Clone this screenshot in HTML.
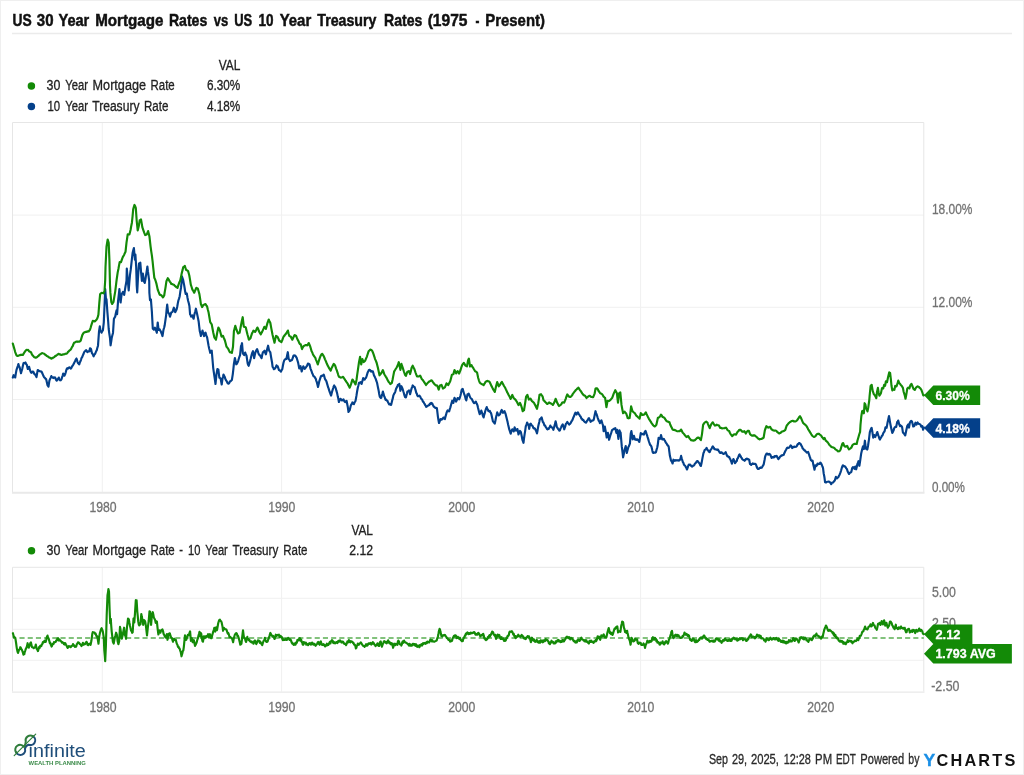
<!DOCTYPE html>
<html lang="en"><head><meta charset="utf-8"><title>US 30 Year Mortgage Rates vs US 10 Year Treasury Rates</title>
<style>html,body{margin:0;padding:0;background:#fff;overflow:hidden}svg{display:block;will-change:transform}text{font-family:"Liberation Sans",sans-serif}</style></head><body>
<svg width="1024" height="775" viewBox="0 0 1024 775">
<rect x="0" y="0" width="1024" height="775" fill="#fff"/>
<g opacity="0.999">
<rect x="0.5" y="0.5" width="1023" height="774" fill="none" stroke="#efefef" stroke-width="1"/>
<text y="25.8" font-size="17.0" fill="#111" font-weight="bold" stroke="#111" stroke-width="0.5"><tspan x="12.6" textLength="19.2" lengthAdjust="spacingAndGlyphs">US</tspan> <tspan x="36.8" textLength="16.7" lengthAdjust="spacingAndGlyphs">30</tspan> <tspan x="58.5" textLength="30.8" lengthAdjust="spacingAndGlyphs">Year</tspan> <tspan x="95.2" textLength="68.3" lengthAdjust="spacingAndGlyphs">Mortgage</tspan> <tspan x="168.9" textLength="38.4" lengthAdjust="spacingAndGlyphs">Rates</tspan> <tspan x="213.8" textLength="14.5" lengthAdjust="spacingAndGlyphs">vs</tspan> <tspan x="234.2" textLength="18.0" lengthAdjust="spacingAndGlyphs">US</tspan> <tspan x="258.6" textLength="15.0" lengthAdjust="spacingAndGlyphs">10</tspan> <tspan x="279.7" textLength="31.5" lengthAdjust="spacingAndGlyphs">Year</tspan> <tspan x="317.3" textLength="59.1" lengthAdjust="spacingAndGlyphs">Treasury</tspan> <tspan x="384.0" textLength="38.3" lengthAdjust="spacingAndGlyphs">Rates</tspan> <tspan x="427.7" textLength="39.8" lengthAdjust="spacingAndGlyphs">(1975</tspan> <tspan x="475.5" textLength="3.9" lengthAdjust="spacingAndGlyphs">-</tspan> <tspan x="485.3" textLength="59.6" lengthAdjust="spacingAndGlyphs">Present)</tspan></text>
<line x1="12" y1="33.5" x2="1012" y2="33.5" stroke="#ebebeb" stroke-width="1.4"/>
<text x="218.7" y="69.9" font-size="14.0" fill="#222222" textLength="21.6" lengthAdjust="spacingAndGlyphs" stroke="#222222" stroke-width="0.3">VAL</text>
<circle cx="31.4" cy="86.0" r="3.75" fill="#138a07"/>
<text y="90.3" font-size="14.0" fill="#222222" stroke="#222222" stroke-width="0.3"><tspan x="46.6" textLength="13.8" lengthAdjust="spacingAndGlyphs">30</tspan> <tspan x="65.3" textLength="22.8" lengthAdjust="spacingAndGlyphs">Year</tspan> <tspan x="92.6" textLength="53.4" lengthAdjust="spacingAndGlyphs">Mortgage</tspan> <tspan x="150.5" textLength="24.2" lengthAdjust="spacingAndGlyphs">Rate</tspan></text>
<text x="207" y="90.3" font-size="14.0" fill="#222222" textLength="33.3" lengthAdjust="spacingAndGlyphs" stroke="#222222" stroke-width="0.3">6.30%</text>
<circle cx="31.4" cy="106.5" r="3.75" fill="#04408a"/>
<text y="110.8" font-size="14.0" fill="#222222" stroke="#222222" stroke-width="0.3"><tspan x="47.5" textLength="12.7" lengthAdjust="spacingAndGlyphs">10</tspan> <tspan x="65.3" textLength="22.8" lengthAdjust="spacingAndGlyphs">Year</tspan> <tspan x="92.2" textLength="47.3" lengthAdjust="spacingAndGlyphs">Treasury</tspan> <tspan x="143.9" textLength="24.5" lengthAdjust="spacingAndGlyphs">Rate</tspan></text>
<text x="207" y="110.8" font-size="14.0" fill="#222222" textLength="33.3" lengthAdjust="spacingAndGlyphs" stroke="#222222" stroke-width="0.3">4.18%</text>
<line x1="102.3" y1="122.5" x2="102.3" y2="492.3" stroke="#f0f0f0" stroke-width="1"/>
<line x1="281.6" y1="122.5" x2="281.6" y2="492.3" stroke="#f0f0f0" stroke-width="1"/>
<line x1="461.6" y1="122.5" x2="461.6" y2="492.3" stroke="#f0f0f0" stroke-width="1"/>
<line x1="640.6" y1="122.5" x2="640.6" y2="492.3" stroke="#f0f0f0" stroke-width="1"/>
<line x1="820.6" y1="122.5" x2="820.6" y2="492.3" stroke="#f0f0f0" stroke-width="1"/>
<line x1="12.5" y1="215.1" x2="923.8" y2="215.1" stroke="#f0f0f0" stroke-width="1"/>
<line x1="12.5" y1="307.3" x2="923.8" y2="307.3" stroke="#f0f0f0" stroke-width="1"/>
<line x1="12.5" y1="399.5" x2="923.8" y2="399.5" stroke="#f0f0f0" stroke-width="1"/>
<path d="M12.5,492.3 L12.5,122.5 L923.8,122.5 L923.8,492.3" fill="none" stroke="#e6e6e6" stroke-width="1"/>
<line x1="12.0" y1="492.8" x2="924.5" y2="492.8" stroke="#e9e9e9" stroke-width="2"/>
<path d="M12.8,377.6 L13.6,375.2 L14.1,375.8 L14.7,376.8 L15.2,377.5 L15.8,373.6 L16.5,369.9 L17.1,368.2 L17.8,366.1 L18.4,364.0 L19.0,366.2 L19.7,367.4 L20.4,370.4 L21.0,373.2 L21.6,371.0 L22.3,368.6 L22.9,365.8 L23.5,363.2 L24.0,362.9 L24.5,363.1 L25.0,363.1 L25.5,362.5 L26.1,364.1 L26.8,364.8 L27.3,367.0 L27.8,369.0 L28.5,368.4 L29.1,366.8 L30.0,370.2 L30.6,371.6 L31.3,372.8 L31.9,372.5 L32.4,371.6 L33.0,371.6 L33.5,372.1 L34.0,373.4 L34.5,374.2 L35.0,374.3 L35.5,375.2 L36.0,376.0 L36.5,377.2 L37.1,373.5 L37.7,370.1 L38.2,370.1 L38.7,370.7 L39.2,370.9 L39.7,371.2 L40.3,371.4 L41.0,371.4 L41.6,371.7 L42.2,373.0 L42.9,374.7 L43.5,376.1 L44.0,377.1 L44.6,377.7 L45.1,378.1 L45.6,379.0 L46.1,379.1 L46.8,382.0 L47.4,384.9 L48.0,386.0 L48.5,386.7 L49.4,380.6 L50.0,379.1 L50.7,377.6 L51.3,376.1 L51.9,377.2 L52.6,377.7 L53.2,377.3 L53.7,378.0 L54.2,377.6 L54.7,377.4 L55.2,377.5 L55.7,379.0 L56.2,380.2 L56.7,380.6 L57.2,380.3 L57.8,378.9 L58.3,378.7 L58.8,377.5 L59.3,378.9 L59.8,379.9 L60.3,380.3 L61.0,380.1 L61.6,378.9 L62.1,377.2 L62.7,375.6 L63.2,373.5 L63.9,374.6 L64.5,375.7 L65.1,374.3 L65.7,372.5 L66.2,370.4 L66.8,368.8 L67.3,368.2 L67.8,368.6 L68.3,368.5 L68.9,367.6 L69.6,367.4 L70.2,368.0 L70.9,368.6 L71.5,367.6 L72.0,366.6 L72.6,365.6 L73.2,364.8 L73.9,363.4 L74.5,362.2 L75.0,361.5 L75.5,360.1 L76.0,359.2 L76.5,358.5 L77.0,360.1 L77.5,361.8 L78.0,363.1 L78.7,363.8 L79.3,364.3 L79.9,362.3 L80.4,361.3 L81.0,359.8 L81.6,357.8 L82.3,356.8 L82.9,355.2 L83.5,354.1 L84.0,352.5 L84.6,351.5 L85.1,351.3 L85.6,350.4 L86.1,350.2 L86.8,351.3 L87.4,352.1 L87.9,351.4 L88.4,351.5 L88.9,351.5 L89.4,351.3 L90.0,348.3 L90.5,348.5 L91.0,349.0 L91.9,353.0 L92.5,353.8 L93.0,354.9 L93.6,356.3 L94.1,354.8 L94.7,354.4 L95.2,353.7 L95.7,352.3 L96.2,351.1 L96.7,350.4 L97.3,348.0 L98.0,345.7 L98.5,338.7 L99.0,331.7 L99.8,326.4 L100.6,331.4 L101.1,331.8 L101.6,332.6 L102.2,331.2 L102.9,330.4 L103.8,322.5 L104.5,305.8 L105.2,289.0 L105.9,298.4 L106.5,299.4 L107.4,312.2 L108.1,320.5 L108.7,329.0 L109.3,333.5 L110.0,338.2 L110.6,345.3 L111.2,341.6 L111.7,338.0 L112.3,335.6 L113.0,332.9 L113.9,319.0 L114.6,317.6 L115.2,316.7 L115.8,313.5 L116.5,310.4 L117.1,314.1 L117.6,307.4 L118.1,300.6 L118.8,294.8 L119.4,289.0 L120.0,295.9 L120.6,302.5 L121.1,298.3 L121.6,294.6 L122.2,293.2 L122.9,292.0 L123.6,293.1 L124.2,294.9 L124.8,290.8 L125.5,286.4 L126.0,283.6 L126.5,280.7 L126.8,268.5 L127.3,274.4 L127.8,280.1 L128.7,290.5 L129.3,282.7 L130.0,274.9 L130.7,269.9 L131.3,264.6 L131.9,259.0 L132.6,253.0 L133.2,250.6 L133.9,248.0 L134.4,253.8 L134.9,259.6 L135.4,254.5 L136.2,267.3 L136.7,285.2 L137.2,292.5 L138.0,277.5 L138.5,270.4 L139.0,263.5 L139.7,263.1 L140.3,262.7 L141.1,272.5 L141.9,280.8 L142.4,277.2 L142.9,273.6 L143.4,277.7 L143.9,281.5 L144.8,282.8 L145.4,279.5 L145.9,276.2 L146.4,273.1 L146.9,269.9 L147.4,266.5 L147.9,271.2 L148.5,275.7 L149.2,280.9 L149.4,293.0 L150.0,300.2 L150.9,299.4 L151.4,305.9 L151.9,312.2 L152.8,328.8 L153.4,329.1 L153.9,329.7 L154.4,328.6 L154.9,327.7 L155.8,329.8 L156.3,331.2 L156.8,332.8 L157.7,322.5 L158.6,330.0 L159.1,329.3 L159.7,329.4 L160.2,330.6 L160.7,331.2 L161.6,333.5 L162.5,336.1 L163.0,332.8 L163.5,329.7 L164.1,327.8 L164.6,325.8 L165.1,322.3 L165.6,318.8 L166.1,315.5 L166.6,309.9 L167.2,304.5 L168.1,312.5 L169.0,313.5 L169.5,315.0 L170.0,316.7 L170.7,314.5 L171.3,312.4 L171.9,312.2 L172.6,311.6 L173.2,309.7 L173.9,307.7 L174.6,310.0 L175.2,312.2 L175.7,311.2 L176.2,310.3 L176.7,309.0 L177.3,306.3 L177.8,303.4 L178.4,300.5 L179.1,298.4 L179.7,296.2 L180.3,291.8 L181.0,287.7 L181.7,281.3 L181.9,276.4 L182.6,278.4 L183.2,280.2 L183.7,282.9 L184.2,285.4 L184.7,288.5 L185.2,291.8 L185.7,293.9 L186.2,294.1 L186.8,293.5 L187.4,297.2 L188.1,300.7 L188.8,303.2 L189.4,305.9 L190.1,314.3 L190.6,315.0 L191.1,316.6 L191.8,315.7 L192.4,315.4 L193.0,317.5 L193.6,318.7 L194.1,316.0 L194.7,313.3 L195.3,311.2 L195.9,308.7 L196.4,311.0 L197.0,313.5 L197.5,315.9 L198.1,318.7 L198.6,321.2 L199.2,326.3 L199.8,331.3 L200.4,333.6 L200.9,336.0 L201.4,334.0 L202.0,332.4 L202.5,330.5 L203.0,332.4 L203.5,334.0 L204.0,336.1 L204.5,335.3 L205.0,333.4 L205.5,332.6 L206.0,334.4 L206.6,336.2 L207.1,337.3 L207.6,340.1 L208.1,343.0 L208.6,345.9 L209.1,348.3 L209.7,350.5 L210.2,352.8 L210.7,352.0 L211.2,351.2 L211.7,350.6 L212.2,356.2 L212.7,362.0 L213.2,367.8 L213.8,372.2 L214.5,376.9 L215.0,380.3 L215.5,384.0 L216.0,379.1 L216.5,374.2 L217.4,369.0 L217.9,369.3 L218.4,369.7 L218.9,374.0 L219.4,377.8 L220.1,378.0 L220.7,378.8 L221.2,381.7 L221.7,384.5 L222.5,378.7 L223.0,376.8 L223.5,374.5 L224.2,375.9 L224.8,377.1 L225.4,379.1 L226.1,380.4 L226.8,381.4 L227.4,382.8 L228.1,383.7 L228.7,383.7 L229.3,382.8 L230.0,381.2 L230.6,381.2 L231.3,380.5 L231.9,379.9 L232.8,374.1 L233.4,368.9 L233.9,363.9 L234.4,361.0 L234.9,358.0 L235.6,361.3 L236.2,364.3 L236.8,363.8 L237.5,362.5 L238.2,360.8 L238.8,358.7 L239.4,356.8 L240.1,354.8 L241.0,346.1 L241.5,344.8 L242.0,343.2 L242.9,353.5 L243.6,354.3 L244.2,355.1 L244.7,353.5 L245.2,352.5 L245.8,354.3 L246.5,355.5 L247.1,359.6 L247.7,363.7 L248.2,365.0 L248.7,365.8 L249.3,363.7 L250.0,361.4 L250.6,359.1 L251.1,356.9 L251.7,354.6 L252.3,352.6 L253.0,351.1 L253.6,354.6 L254.1,358.2 L254.8,355.1 L255.4,352.6 L256.0,351.0 L256.5,350.0 L257.1,349.1 L257.8,351.1 L258.4,353.1 L259.0,354.7 L259.7,355.0 L260.3,356.0 L261.0,357.2 L261.6,358.1 L262.2,355.1 L262.9,352.2 L263.5,351.8 L264.0,351.4 L264.6,350.7 L265.2,352.7 L265.9,354.3 L266.5,351.6 L267.2,349.0 L268.1,345.7 L269.0,350.1 L269.6,351.4 L270.3,352.2 L270.9,356.0 L271.5,359.5 L272.1,362.8 L272.6,366.9 L273.2,367.6 L273.9,369.2 L274.5,368.9 L275.2,368.2 L275.9,367.0 L276.5,365.3 L277.1,366.1 L277.7,366.3 L278.4,368.3 L279.0,370.1 L279.5,370.3 L280.0,370.7 L280.5,370.8 L281.0,371.6 L281.6,370.2 L282.3,369.1 L282.9,365.8 L283.5,362.7 L284.1,360.7 L284.8,359.5 L285.4,359.3 L285.9,358.6 L286.5,358.8 L287.1,355.5 L287.8,352.2 L288.7,359.1 L289.4,359.7 L290.0,361.1 L290.4,360.9 L290.9,360.5 L291.5,360.2 L292.0,360.0 L292.5,358.6 L293.0,357.1 L293.5,355.7 L294.0,355.4 L294.6,355.7 L295.1,355.5 L295.6,356.1 L296.1,357.0 L296.6,357.6 L297.1,359.3 L297.7,361.2 L298.2,363.1 L298.7,365.6 L299.2,368.4 L299.9,367.0 L300.5,366.2 L301.1,368.8 L301.7,371.5 L302.2,369.7 L302.8,367.9 L303.3,366.3 L303.8,367.0 L304.3,368.5 L304.8,368.9 L305.3,368.2 L305.9,367.3 L306.4,366.6 L306.9,366.1 L307.4,365.0 L307.9,363.5 L308.4,363.7 L309.0,364.0 L309.5,364.3 L310.0,366.4 L310.5,368.6 L311.0,370.0 L311.6,371.2 L312.1,373.0 L312.6,373.9 L313.1,375.2 L313.6,376.3 L314.1,376.4 L314.7,377.0 L315.2,378.0 L315.7,378.6 L316.2,380.6 L316.7,381.7 L317.4,384.4 L318.0,387.0 L318.7,383.9 L319.4,380.8 L319.9,379.3 L320.4,377.9 L320.9,376.4 L321.4,375.8 L322.0,376.0 L322.5,375.4 L323.1,375.1 L323.7,374.7 L324.3,376.4 L324.9,378.7 L325.4,379.7 L326.0,380.6 L326.5,381.6 L327.0,383.4 L327.5,385.1 L328.0,387.0 L328.5,388.1 L329.1,390.1 L329.6,391.7 L330.1,392.8 L330.6,394.3 L331.1,395.6 L331.6,393.5 L332.2,391.3 L332.7,389.6 L333.2,388.1 L333.7,386.4 L334.2,385.4 L334.7,386.3 L335.3,387.1 L335.8,388.5 L336.3,390.4 L336.8,392.1 L337.3,394.1 L337.8,396.6 L338.4,399.0 L338.9,402.0 L339.4,400.8 L339.9,400.0 L340.4,398.8 L340.9,399.3 L341.5,399.5 L342.0,400.5 L342.5,400.3 L343.0,400.0 L343.5,399.3 L344.0,400.7 L344.6,401.5 L345.1,402.1 L345.6,401.6 L346.1,401.1 L346.6,400.8 L347.1,403.6 L347.7,406.4 L348.5,412.0 L349.1,411.0 L349.7,410.2 L350.2,407.9 L350.8,405.4 L351.3,404.5 L351.9,403.8 L352.4,402.4 L352.9,402.7 L353.4,403.9 L353.9,404.2 L354.4,402.8 L355.0,401.8 L355.5,400.9 L356.0,398.2 L356.5,395.4 L357.1,391.5 L357.8,387.7 L358.4,385.5 L359.0,382.8 L359.5,382.8 L360.1,382.4 L360.6,382.1 L361.1,382.9 L361.6,383.9 L362.1,382.0 L362.7,380.2 L363.2,378.1 L363.7,378.7 L364.2,379.5 L364.7,379.6 L365.2,378.5 L365.8,377.9 L366.3,376.9 L366.8,375.4 L367.3,373.7 L367.8,372.2 L368.3,371.3 L368.9,370.0 L369.4,369.9 L369.9,369.9 L370.4,370.5 L370.9,371.5 L371.4,371.2 L371.9,371.6 L372.4,371.4 L372.9,371.4 L373.4,373.3 L374.0,375.6 L374.5,376.2 L375.1,377.7 L375.6,378.5 L376.1,380.2 L376.6,381.5 L377.1,383.0 L377.6,385.6 L378.2,388.4 L378.7,390.9 L379.2,394.0 L379.8,396.7 L380.3,397.5 L380.8,398.0 L381.3,397.8 L381.8,395.6 L382.4,393.5 L382.9,391.5 L383.5,393.9 L384.1,395.9 L384.6,396.9 L385.1,398.5 L385.6,399.8 L386.2,399.6 L386.9,400.8 L387.5,400.9 L388.0,402.2 L388.6,403.3 L389.1,404.4 L389.6,403.8 L390.1,404.2 L390.6,404.7 L391.1,404.9 L391.7,402.4 L392.3,400.1 L392.9,397.9 L393.4,395.2 L393.9,394.4 L394.4,393.3 L394.9,392.6 L395.4,391.3 L396.0,389.0 L396.5,388.0 L397.0,387.0 L397.5,386.0 L398.0,384.7 L398.6,384.7 L399.3,383.9 L399.9,387.4 L400.4,390.8 L400.9,388.6 L401.4,386.2 L402.0,387.5 L402.7,389.2 L403.3,391.3 L403.9,393.2 L404.4,395.2 L405.0,397.0 L405.9,397.4 L406.4,395.5 L406.9,393.8 L407.4,391.5 L407.9,391.4 L408.5,391.1 L409.0,390.4 L409.6,392.2 L410.1,394.2 L410.6,392.3 L411.1,390.2 L411.6,388.4 L412.1,387.1 L412.7,385.4 L413.2,386.2 L413.7,386.6 L414.2,386.7 L414.7,387.3 L415.2,389.0 L415.8,390.9 L416.3,393.1 L416.8,393.6 L417.3,395.4 L417.8,396.2 L418.3,396.0 L418.9,396.2 L419.4,395.6 L419.9,396.2 L420.4,397.0 L420.9,398.2 L421.4,399.0 L421.9,399.2 L422.4,400.2 L422.9,401.6 L423.5,402.0 L424.2,403.3 L424.8,404.2 L425.3,405.3 L425.8,405.9 L426.3,406.9 L426.9,406.4 L427.6,405.9 L428.2,405.6 L428.7,405.0 L429.2,405.1 L429.7,404.0 L430.2,403.5 L430.7,404.0 L431.2,402.9 L431.7,403.2 L432.2,403.5 L432.8,404.8 L433.3,405.7 L433.8,406.7 L434.3,407.0 L434.8,407.5 L435.3,407.8 L435.9,408.1 L436.4,407.9 L436.9,408.2 L437.4,412.4 L437.9,416.6 L438.4,419.9 L439.0,423.0 L439.5,421.9 L440.1,420.0 L440.6,419.0 L441.1,419.2 L441.6,419.7 L442.1,419.4 L442.8,418.5 L443.4,417.5 L443.9,417.6 L444.4,418.5 L444.9,419.1 L445.4,416.9 L446.0,414.9 L446.5,412.9 L447.1,411.4 L447.7,410.4 L448.2,411.2 L448.7,410.9 L449.2,411.3 L449.7,409.4 L450.3,407.6 L450.8,405.8 L451.5,403.3 L452.2,400.7 L452.8,402.0 L453.4,402.9 L453.9,400.1 L454.5,397.8 L455.0,398.7 L455.6,399.9 L456.1,401.6 L456.6,400.5 L457.1,399.5 L457.6,398.1 L458.1,398.6 L458.6,398.5 L459.1,399.3 L459.8,397.7 L460.4,395.7 L461.0,393.2 L461.6,390.1 L462.1,389.2 L462.7,388.9 L463.2,390.7 L463.8,392.7 L464.4,394.7 L465.0,396.2 L465.6,398.8 L466.3,400.4 L466.9,397.4 L467.5,394.2 L468.1,394.1 L468.7,393.7 L469.4,395.3 L470.0,397.0 L470.5,397.8 L471.0,398.5 L471.5,398.7 L472.0,399.4 L472.5,400.7 L473.0,401.4 L473.5,402.5 L474.0,403.2 L474.6,402.9 L475.3,402.2 L475.9,401.7 L476.4,402.9 L476.9,404.0 L477.4,405.1 L478.0,407.8 L478.7,410.5 L479.2,412.5 L479.7,414.2 L480.2,413.1 L480.8,412.1 L481.3,410.6 L481.8,412.0 L482.3,413.6 L482.8,415.5 L483.6,417.4 L484.1,415.3 L484.7,413.4 L485.2,411.3 L485.7,409.7 L486.2,408.3 L486.7,407.1 L487.2,408.7 L487.8,409.4 L488.3,410.9 L488.8,411.0 L489.3,411.5 L489.8,410.9 L490.3,412.0 L490.9,412.9 L491.4,414.4 L491.9,416.7 L492.4,418.9 L492.9,421.4 L493.5,421.8 L494.2,422.8 L494.8,423.6 L495.4,420.7 L496.0,417.5 L496.6,415.1 L497.2,412.4 L497.7,413.5 L498.3,414.5 L498.8,415.4 L499.3,415.0 L499.8,414.4 L500.3,413.4 L501.0,411.3 L501.7,409.9 L502.4,411.5 L503.0,412.8 L503.5,412.6 L504.0,411.8 L504.5,411.1 L505.0,412.5 L505.6,413.9 L506.1,415.9 L506.6,418.1 L507.1,420.1 L507.6,422.1 L508.1,424.5 L508.7,426.9 L509.2,429.2 L509.7,430.7 L510.2,432.1 L510.7,433.7 L511.2,431.9 L511.8,430.3 L512.3,429.3 L512.8,430.3 L513.3,430.7 L513.8,431.4 L514.6,427.4 L515.1,428.5 L515.6,429.8 L516.1,430.6 L516.8,430.3 L517.4,429.0 L518.0,431.8 L518.5,434.5 L519.0,433.1 L519.5,432.2 L520.0,430.9 L520.9,432.1 L521.4,434.6 L521.9,437.0 L522.4,439.8 L523.0,441.3 L523.5,442.8 L524.0,438.5 L524.6,434.4 L525.2,430.6 L525.8,426.2 L526.5,424.8 L527.1,422.6 L527.6,423.5 L528.1,424.6 L528.6,425.1 L529.2,428.9 L529.7,426.1 L530.2,423.9 L530.7,423.7 L531.2,424.4 L531.7,425.3 L532.2,425.6 L532.8,426.4 L533.3,427.8 L533.9,428.3 L534.5,428.2 L535.1,428.8 L535.7,430.2 L536.4,431.6 L537.0,433.4 L537.6,430.2 L538.2,426.5 L538.7,424.2 L539.3,421.9 L539.8,419.2 L540.4,418.9 L541.0,418.3 L541.6,417.4 L542.2,419.6 L542.9,422.2 L543.4,422.5 L543.9,423.8 L544.4,425.4 L544.9,425.4 L545.5,426.4 L546.0,427.4 L546.5,428.0 L547.0,429.0 L547.5,429.3 L548.0,428.9 L548.6,429.0 L549.1,427.8 L549.7,427.3 L550.3,425.5 L550.8,426.8 L551.4,427.0 L551.9,427.5 L552.4,427.8 L552.9,428.5 L553.4,429.8 L553.9,427.8 L554.4,426.0 L554.9,424.4 L555.6,421.3 L556.2,423.8 L556.8,427.0 L557.3,427.7 L557.9,428.6 L558.4,429.3 L558.9,429.9 L559.4,430.7 L559.9,430.3 L560.4,428.9 L561.0,427.6 L561.5,426.3 L562.1,425.3 L562.7,424.4 L563.2,425.7 L563.7,427.3 L564.2,429.3 L564.7,427.8 L565.3,426.3 L565.8,424.1 L566.3,423.4 L566.8,423.1 L567.3,421.9 L567.9,423.1 L568.6,423.8 L569.2,424.6 L569.7,424.1 L570.2,423.7 L570.7,423.0 L571.3,421.7 L572.0,420.6 L572.6,419.6 L573.1,418.2 L573.6,417.0 L574.1,416.0 L574.8,413.9 L575.4,412.7 L576.0,413.8 L576.6,414.5 L577.2,412.8 L577.9,412.3 L578.6,413.8 L579.3,414.7 L579.8,415.6 L580.3,416.3 L580.8,416.9 L581.3,418.5 L581.9,418.8 L582.4,419.9 L582.9,419.7 L583.4,420.0 L583.9,421.1 L584.4,421.5 L584.9,422.1 L585.4,422.4 L585.9,422.7 L586.4,422.2 L587.0,420.8 L587.5,420.4 L588.0,419.6 L588.5,418.5 L589.0,418.2 L589.5,419.2 L590.1,420.6 L590.6,421.8 L591.1,421.2 L591.6,420.8 L592.1,420.5 L592.6,420.6 L593.2,420.3 L593.7,419.7 L594.2,417.4 L594.7,414.9 L595.5,411.2 L596.1,413.0 L596.8,414.9 L597.3,416.5 L597.8,418.1 L598.3,419.5 L598.8,420.8 L599.4,421.5 L599.9,423.1 L600.4,421.9 L600.9,421.1 L601.4,420.4 L601.9,422.0 L602.4,423.6 L602.9,425.0 L603.6,431.2 L604.2,428.9 L604.8,426.5 L605.4,429.7 L606.0,432.9 L606.7,437.5 L607.3,435.0 L607.9,432.9 L608.5,436.2 L609.1,439.8 L609.6,437.9 L610.2,436.0 L610.7,434.3 L611.2,432.9 L611.7,431.2 L612.2,430.0 L612.8,429.6 L613.5,429.0 L614.1,428.7 L614.7,428.5 L615.3,428.1 L615.8,430.4 L616.4,432.8 L617.2,429.8 L617.8,434.4 L618.4,438.9 L619.0,434.7 L619.5,430.4 L620.0,431.8 L620.6,432.7 L621.2,439.6 L621.8,446.7 L622.5,452.0 L623.1,457.4 L623.7,454.5 L624.2,451.5 L624.7,449.6 L625.2,447.8 L625.7,446.0 L626.2,449.5 L626.8,453.0 L627.3,451.1 L627.8,449.3 L628.3,447.2 L628.8,446.5 L629.4,444.8 L629.9,443.6 L630.8,433.2 L631.4,431.1 L632.0,435.0 L632.7,439.3 L633.3,437.5 L633.9,435.8 L634.5,437.7 L635.0,439.6 L635.6,439.2 L636.2,439.9 L636.7,439.3 L637.2,439.4 L637.7,439.5 L638.2,440.4 L638.8,441.1 L639.3,441.9 L639.8,439.1 L640.3,436.2 L640.8,433.0 L641.3,434.1 L641.9,434.1 L642.4,433.8 L642.9,434.1 L643.4,434.4 L643.9,434.6 L644.4,432.7 L645.0,431.5 L645.5,430.8 L646.0,432.1 L646.5,434.0 L647.0,435.1 L647.5,436.8 L648.1,438.6 L648.6,440.4 L649.1,442.0 L649.6,443.4 L650.1,444.9 L650.8,445.4 L651.4,446.6 L651.9,448.5 L652.4,450.9 L652.9,452.8 L653.4,452.9 L654.0,452.4 L654.5,452.6 L655.0,452.5 L655.5,452.6 L656.0,452.0 L656.5,449.9 L657.1,448.0 L657.6,445.8 L658.1,442.0 L658.6,437.8 L659.1,438.2 L659.7,438.9 L660.2,438.7 L661.0,435.0 L661.6,437.3 L662.2,439.5 L662.7,439.5 L663.3,439.2 L663.8,438.8 L664.3,439.8 L664.8,440.5 L665.3,441.5 L665.8,442.6 L666.4,443.3 L666.9,444.0 L667.5,445.4 L668.1,445.6 L668.7,446.7 L669.3,451.4 L669.9,455.8 L670.5,458.3 L671.0,460.4 L671.5,461.3 L672.1,462.3 L672.6,463.5 L673.4,459.7 L673.9,459.9 L674.4,460.5 L674.9,460.8 L675.4,460.1 L676.0,460.4 L676.5,460.4 L677.1,460.2 L677.6,460.3 L678.2,460.3 L678.8,460.7 L679.3,460.1 L679.8,459.6 L680.3,459.6 L681.1,455.9 L681.7,458.2 L682.3,460.3 L682.8,462.0 L683.4,462.8 L683.9,464.6 L684.5,465.3 L685.1,465.6 L685.7,466.9 L686.4,468.0 L687.0,469.5 L687.5,468.2 L688.0,466.7 L688.5,465.1 L689.0,464.5 L689.6,464.9 L690.1,464.7 L690.6,465.1 L691.1,465.8 L691.6,466.2 L692.1,466.6 L692.7,466.2 L693.2,465.6 L693.8,465.4 L694.4,464.8 L695.0,463.5 L695.6,463.3 L696.2,462.2 L696.8,461.2 L697.4,461.0 L697.9,461.3 L698.4,462.3 L698.9,462.9 L699.4,463.2 L699.9,464.4 L700.4,465.4 L700.9,465.9 L701.5,463.2 L702.0,460.6 L702.5,457.9 L703.0,455.4 L703.5,452.9 L704.0,451.9 L704.6,450.2 L705.1,449.5 L705.6,449.5 L706.1,448.7 L706.6,447.9 L707.1,449.3 L707.7,450.0 L708.2,450.5 L708.7,451.4 L709.2,451.8 L709.7,452.2 L710.2,450.8 L710.8,449.5 L711.3,449.1 L711.8,448.2 L712.3,447.0 L712.8,446.3 L713.3,447.2 L713.9,447.8 L714.4,449.1 L714.9,449.2 L715.4,449.3 L715.9,449.3 L716.4,449.7 L716.9,449.5 L717.4,449.9 L717.9,449.4 L718.5,450.6 L719.2,451.5 L719.8,452.7 L720.4,452.9 L721.1,452.4 L721.7,452.4 L722.2,453.2 L722.7,453.3 L723.2,453.9 L723.7,454.0 L724.2,453.4 L724.7,453.2 L725.2,453.0 L725.7,452.1 L726.2,453.5 L726.7,455.0 L727.2,456.2 L727.7,456.4 L728.3,456.4 L728.8,457.0 L729.3,457.1 L729.8,458.6 L730.3,459.0 L730.8,460.5 L731.4,461.9 L731.9,463.7 L732.4,462.0 L732.9,460.6 L733.4,459.0 L733.9,460.0 L734.5,461.3 L735.0,463.2 L735.6,462.3 L736.2,461.5 L736.8,460.9 L737.3,458.8 L737.9,458.1 L738.4,456.8 L739.0,455.2 L739.6,454.3 L740.1,455.8 L740.7,456.2 L741.2,457.6 L741.7,457.9 L742.2,459.1 L742.7,459.5 L743.3,460.0 L744.0,460.1 L744.6,460.8 L745.1,460.1 L745.6,459.3 L746.1,458.9 L746.6,458.7 L747.2,459.2 L747.7,458.8 L748.2,459.3 L748.7,459.5 L749.2,459.7 L750.0,464.0 L750.6,464.3 L751.2,464.9 L751.7,464.0 L752.2,464.0 L752.7,463.3 L753.3,463.8 L754.0,463.8 L754.6,463.8 L755.1,463.9 L755.6,464.0 L756.1,464.9 L756.6,466.5 L757.2,468.0 L757.7,468.8 L758.2,468.5 L758.7,468.9 L759.2,468.4 L759.7,467.9 L760.2,468.0 L760.7,467.4 L761.2,467.7 L761.7,467.8 L762.3,466.8 L763.0,465.4 L763.6,464.7 L764.1,462.3 L764.6,459.8 L765.1,456.8 L765.6,455.4 L766.2,454.1 L766.7,453.5 L767.2,453.5 L767.7,453.9 L768.2,454.7 L768.7,454.3 L769.3,453.9 L769.8,454.2 L770.4,454.8 L771.0,456.3 L771.6,458.0 L772.1,457.3 L772.6,457.0 L773.1,457.3 L773.6,456.9 L774.1,457.3 L774.7,456.2 L775.2,456.6 L775.7,456.0 L776.2,456.2 L776.7,455.8 L777.2,457.2 L777.8,458.0 L778.3,459.2 L778.8,458.6 L779.3,458.1 L779.8,457.0 L780.3,456.5 L780.8,456.2 L781.4,455.5 L781.9,455.3 L782.5,455.3 L783.1,455.0 L783.7,454.8 L784.3,453.2 L785.0,451.7 L785.6,450.5 L786.1,449.7 L786.6,448.6 L787.1,447.9 L787.6,447.5 L788.1,447.9 L788.6,447.7 L789.1,447.6 L789.6,447.0 L790.2,446.2 L790.7,445.4 L791.2,446.1 L791.7,446.6 L792.2,448.1 L792.7,447.5 L793.2,446.8 L793.7,447.2 L794.2,446.6 L794.8,446.8 L795.5,446.8 L796.1,446.7 L796.7,446.4 L797.4,444.6 L798.0,443.8 L798.5,444.1 L799.0,443.0 L799.5,443.1 L800.0,443.6 L800.6,443.9 L801.1,445.1 L801.6,445.9 L802.1,446.8 L802.6,448.5 L803.1,448.5 L803.6,449.5 L804.1,450.0 L804.6,450.5 L805.0,450.4 L805.6,451.6 L806.2,451.8 L806.8,452.6 L807.5,452.2 L808.1,451.9 L809.0,454.3 L809.5,456.2 L810.1,457.6 L810.7,459.8 L811.3,460.3 L812.0,461.1 L812.6,460.6 L813.4,465.1 L814.0,467.5 L814.5,469.7 L815.4,465.4 L816.3,466.1 L817.0,465.1 L817.6,463.5 L818.3,464.1 L819.0,463.9 L819.6,463.9 L820.3,462.6 L821.0,463.3 L821.7,464.5 L822.4,466.5 L823.0,467.9 L823.7,473.5 L824.4,477.0 L825.1,482.3 L825.6,482.4 L826.1,482.5 L826.6,482.0 L827.3,481.8 L828.0,481.7 L828.7,481.5 L829.4,481.9 L830.3,482.6 L831.2,484.1 L832.1,482.5 L832.6,482.5 L833.1,482.5 L833.6,481.9 L834.2,481.0 L834.8,480.6 L835.3,478.7 L835.9,476.8 L836.5,477.7 L837.0,478.4 L837.7,477.6 L838.4,477.1 L839.0,475.7 L839.7,474.4 L840.4,472.7 L841.1,470.5 L842.0,467.3 L842.9,465.3 L843.6,465.8 L844.3,466.5 L845.0,466.4 L845.6,467.2 L846.3,468.4 L847.0,469.2 L847.5,471.1 L848.1,472.3 L849.0,474.0 L849.5,473.4 L850.1,472.6 L850.7,472.5 L851.3,472.0 L852.2,468.1 L852.9,467.1 L853.5,467.2 L854.4,468.8 L855.3,466.5 L856.2,469.3 L856.8,466.8 L857.4,464.0 L858.0,462.7 L858.5,461.2 L859.4,465.8 L860.3,459.9 L861.2,453.4 L862.1,449.5 L863.0,446.4 L863.9,449.1 L864.4,445.0 L864.9,440.7 L865.8,448.3 L866.4,449.1 L867.0,449.1 L867.3,449.5 L868.0,446.0 L868.5,442.5 L869.0,439.3 L869.8,432.4 L870.6,429.8 L871.1,428.6 L871.6,427.8 L872.4,432.1 L873.2,437.6 L873.7,436.2 L874.2,435.0 L874.7,436.5 L875.2,437.0 L875.8,435.5 L876.3,435.0 L876.8,433.1 L877.3,432.0 L877.8,433.9 L878.3,435.4 L878.8,436.6 L879.4,438.7 L879.9,439.5 L880.5,438.2 L881.1,437.6 L881.8,435.9 L882.5,435.5 L883.0,433.9 L883.5,432.8 L884.0,432.0 L884.5,431.5 L885.0,429.5 L885.5,427.3 L886.0,427.7 L886.6,427.8 L887.1,425.1 L887.6,422.3 L888.3,419.2 L889.0,416.1 L889.5,419.0 L890.0,422.1 L890.5,424.7 L891.0,427.3 L891.6,430.1 L892.3,432.9 L892.9,431.9 L893.5,430.6 L894.1,428.6 L894.8,427.3 L895.5,426.7 L896.2,426.9 L896.7,424.4 L897.2,422.0 L897.7,421.8 L898.2,420.5 L898.8,422.8 L899.3,424.6 L900.1,426.2 L900.6,425.4 L901.1,425.9 L901.6,426.2 L902.1,427.1 L902.9,432.4 L903.4,433.1 L903.9,433.6 L904.5,434.3 L905.2,435.4 L905.8,432.7 L906.3,430.3 L906.8,428.1 L907.3,425.8 L907.8,425.1 L908.3,424.4 L909.0,427.6 L909.9,422.5 L910.5,421.6 L911.1,420.8 L911.6,421.2 L912.1,421.9 L912.7,424.3 L913.2,426.5 L913.9,426.3 L914.5,425.5 L915.0,423.9 L915.5,422.7 L916.0,424.1 L916.6,424.5 L917.1,423.4 L917.6,422.5 L918.3,423.6 L919.0,423.9 L919.6,424.1 L920.2,424.4 L920.7,425.1 L921.2,426.6 L921.8,426.3 L922.3,426.1 L923.1,429.7 L923.9,427.6" fill="none" stroke="#04408a" stroke-width="2.15" stroke-linejoin="round" stroke-linecap="round"/>
<path d="M12.8,343.5 L13.9,347.4 L14.6,349.7 L15.2,352.1 L15.8,353.6 L16.5,355.4 L17.7,355.9 L18.4,355.7 L19.0,355.5 L19.7,355.0 L20.3,355.1 L21.0,354.7 L21.6,354.9 L22.3,354.8 L22.9,354.9 L23.5,353.9 L24.2,352.7 L24.8,351.8 L25.6,350.7 L26.5,349.9 L27.3,350.0 L28.1,349.9 L28.8,351.0 L29.4,351.6 L30.0,351.8 L30.6,351.8 L31.3,352.9 L31.9,354.4 L32.6,355.4 L33.2,355.9 L33.9,356.8 L34.6,357.3 L35.2,357.6 L35.8,357.7 L36.5,357.3 L37.1,357.2 L37.8,356.3 L38.4,356.0 L39.1,355.2 L39.7,354.7 L40.5,354.2 L41.2,353.6 L42.0,353.1 L42.7,353.3 L43.5,353.5 L44.2,353.7 L44.8,354.4 L45.5,355.0 L46.1,355.3 L46.8,356.0 L47.4,356.2 L48.1,356.6 L48.7,357.2 L49.4,357.5 L50.0,357.8 L50.6,358.2 L51.3,358.7 L51.9,358.1 L52.6,358.2 L53.2,357.5 L53.9,357.3 L54.5,356.9 L55.1,356.1 L55.8,355.9 L56.4,355.4 L57.0,355.1 L57.6,354.5 L58.2,354.1 L58.8,353.8 L59.5,354.4 L60.3,354.4 L61.0,354.9 L61.6,354.9 L62.3,354.8 L62.9,354.4 L63.6,354.3 L64.2,354.3 L64.8,354.2 L65.5,353.7 L66.2,353.8 L66.8,353.6 L67.4,352.9 L68.1,351.8 L68.7,351.5 L69.3,350.6 L70.0,350.1 L70.6,349.6 L71.3,348.6 L71.9,347.2 L72.6,346.3 L73.3,344.5 L74.1,342.8 L74.7,342.5 L75.3,342.2 L75.9,341.8 L76.5,341.6 L77.1,341.5 L77.7,341.8 L78.4,341.6 L79.0,341.7 L79.8,341.4 L80.7,340.6 L81.5,337.9 L82.3,335.1 L83.0,333.9 L83.8,332.7 L84.6,332.3 L85.3,332.1 L86.1,331.7 L86.8,331.9 L87.4,331.4 L88.0,331.4 L88.7,331.4 L89.3,330.4 L90.0,329.7 L90.7,327.5 L91.3,325.3 L92.0,323.2 L92.8,320.8 L93.4,321.0 L94.0,321.0 L94.6,321.4 L95.2,321.2 L95.8,320.4 L96.5,319.8 L97.1,318.8 L97.8,316.9 L98.4,314.8 L99.3,303.2 L100.1,294.3 L100.8,293.5 L101.6,292.8 L102.2,293.0 L102.9,293.0 L103.5,293.3 L104.5,291.1 L105.2,280.1 L105.5,267.3 L106.5,246.6 L107.1,243.0 L107.7,239.5 L108.7,242.7 L109.4,259.5 L110.0,285.3 L110.4,292.9 L111.3,302.0 L112.2,304.0 L112.8,303.0 L113.5,301.9 L114.3,296.8 L115.2,291.6 L115.9,285.8 L116.6,280.0 L117.7,272.4 L118.4,269.0 L119.0,265.6 L119.7,262.0 L120.3,262.3 L121.0,262.2 L121.6,260.4 L122.3,258.4 L122.9,256.9 L123.6,255.7 L124.2,254.7 L124.8,253.2 L125.5,251.8 L126.5,242.7 L127.1,238.6 L127.7,234.3 L128.6,234.5 L129.4,234.4 L130.6,229.8 L131.2,226.2 L131.9,222.7 L132.6,216.0 L133.2,209.2 L133.8,207.0 L134.5,204.9 L135.2,206.3 L135.8,207.9 L136.7,220.8 L137.7,230.5 L138.8,226.1 L139.7,220.2 L140.3,219.9 L141.0,219.5 L141.7,223.4 L142.3,227.2 L143.5,230.6 L144.3,232.8 L145.2,235.1 L146.0,234.7 L146.8,234.4 L147.4,232.9 L148.1,231.1 L148.8,233.7 L149.4,236.2 L150.6,246.6 L151.2,251.1 L151.9,255.6 L152.6,261.4 L153.2,267.3 L154.3,277.7 L155.1,279.4 L155.8,281.5 L156.5,283.9 L157.7,289.5 L158.4,291.3 L159.0,293.0 L159.7,294.7 L160.3,294.9 L161.0,295.1 L161.6,295.5 L162.2,296.4 L162.9,297.4 L163.6,296.5 L164.2,295.5 L164.8,291.6 L165.5,287.6 L166.4,281.3 L167.0,280.1 L167.8,278.2 L168.6,279.3 L169.4,280.9 L170.0,281.8 L170.7,282.7 L171.3,284.0 L172.0,284.0 L172.6,284.4 L173.2,284.5 L173.9,284.7 L174.5,285.5 L175.2,286.1 L175.8,286.6 L176.7,287.4 L177.5,287.9 L178.2,285.6 L179.0,283.3 L179.7,281.8 L180.3,280.2 L181.1,276.4 L181.9,272.5 L182.6,269.9 L183.2,267.2 L184.0,266.8 L184.8,265.8 L185.4,267.7 L186.1,269.8 L186.8,270.3 L187.4,270.5 L188.1,271.1 L188.7,273.3 L189.3,275.5 L190.1,280.1 L190.8,284.7 L191.6,287.0 L192.4,289.6 L193.3,290.9 L194.2,292.7 L194.9,291.1 L195.6,289.5 L196.3,287.8 L197.1,288.4 L197.8,288.6 L198.6,291.3 L199.4,294.1 L200.2,299.2 L200.9,304.1 L202.1,307.1 L202.8,306.0 L203.5,304.7 L204.2,304.7 L204.8,304.3 L205.5,304.0 L206.3,305.4 L207.1,306.5 L207.8,309.5 L208.6,312.6 L209.4,317.2 L210.2,322.1 L210.9,323.2 L211.7,324.3 L212.5,328.5 L213.3,332.8 L214.4,337.6 L215.2,338.5 L215.9,339.7 L216.6,336.2 L217.2,332.8 L217.8,330.1 L218.4,327.5 L219.2,328.8 L219.9,330.5 L220.7,333.5 L221.5,336.6 L222.2,336.2 L223.0,335.8 L223.6,337.4 L224.3,339.0 L224.9,340.5 L225.7,343.6 L226.5,346.7 L227.1,347.3 L227.7,348.1 L228.3,349.0 L229.1,350.7 L229.9,352.3 L230.6,352.4 L231.2,352.4 L231.9,352.9 L233.0,346.7 L233.9,331.2 L234.6,328.5 L235.3,325.8 L236.5,329.7 L237.3,331.8 L238.1,333.5 L238.8,333.1 L239.6,332.8 L240.4,328.5 L241.2,324.3 L241.9,320.8 L242.7,317.2 L243.8,326.7 L244.5,326.9 L245.1,327.1 L245.8,327.4 L246.6,330.9 L247.4,334.3 L248.2,337.0 L248.9,339.7 L249.7,339.0 L250.5,338.2 L251.2,335.8 L252.0,333.4 L252.8,332.0 L253.5,330.6 L254.3,331.1 L255.1,331.9 L255.9,330.6 L256.6,329.1 L257.4,327.5 L258.2,329.1 L259.0,331.3 L259.6,332.4 L260.2,333.5 L260.8,334.4 L261.5,332.9 L262.1,331.9 L262.8,330.4 L263.6,328.6 L264.4,326.8 L265.1,327.8 L265.9,328.9 L266.7,325.8 L267.5,322.9 L268.7,319.5 L269.5,321.2 L270.3,322.7 L271.4,328.9 L272.0,332.0 L272.6,335.0 L273.2,337.6 L273.9,340.2 L274.5,342.7 L275.2,339.3 L276.0,335.9 L276.8,336.3 L277.5,336.8 L278.3,338.4 L279.1,340.5 L279.9,341.0 L280.6,341.6 L281.4,342.1 L282.2,340.4 L282.9,338.4 L283.7,336.4 L284.3,335.9 L284.9,334.9 L285.5,334.3 L286.1,333.5 L287.0,332.2 L287.9,330.5 L288.5,333.2 L289.2,335.8 L289.9,336.3 L290.7,336.5 L291.5,338.3 L292.3,339.7 L293.1,338.0 L293.8,336.5 L294.6,335.0 L295.4,335.6 L296.1,335.8 L296.9,337.9 L297.7,339.8 L298.5,341.1 L299.2,342.9 L300.0,344.2 L300.8,344.4 L302.0,349.1 L302.8,347.4 L303.6,346.2 L304.5,345.6 L305.4,345.1 L306.1,345.3 L306.8,345.0 L307.5,345.3 L308.7,343.0 L309.4,344.5 L310.1,346.1 L310.9,348.7 L311.6,351.3 L312.3,352.5 L312.9,354.2 L313.6,355.4 L314.4,356.6 L315.2,357.5 L315.9,359.6 L316.7,361.4 L317.8,364.5 L318.6,361.8 L319.4,359.1 L320.1,357.1 L320.9,355.3 L321.5,354.4 L322.2,353.8 L322.9,354.9 L323.7,356.1 L324.3,357.5 L325.0,359.3 L325.6,360.7 L326.3,362.3 L326.9,363.8 L327.6,365.4 L328.4,366.8 L329.1,368.2 L329.9,369.4 L330.7,370.6 L331.4,368.6 L332.2,367.1 L333.0,365.3 L333.8,363.9 L334.6,364.8 L335.3,366.1 L336.1,368.6 L336.9,370.7 L337.6,372.8 L338.2,374.8 L338.9,376.7 L339.5,377.0 L340.1,377.3 L340.7,377.6 L341.3,377.5 L341.9,377.5 L342.5,377.0 L343.1,376.8 L343.9,378.0 L344.6,379.2 L345.4,380.4 L346.2,381.5 L346.9,382.7 L347.7,383.7 L348.4,385.3 L349.0,386.2 L349.7,387.7 L350.4,385.8 L351.1,383.9 L351.8,381.6 L352.4,379.5 L353.1,380.3 L353.9,381.7 L354.7,382.9 L355.5,384.4 L356.5,380.0 L357.1,375.3 L357.8,370.7 L359.0,362.1 L360.1,356.8 L361.2,364.4 L362.4,359.1 L363.0,360.8 L363.7,362.1 L364.4,361.4 L365.2,360.7 L366.0,358.7 L366.8,356.8 L367.4,355.0 L368.0,353.2 L368.6,351.3 L369.4,350.5 L370.2,349.6 L370.8,349.8 L371.4,350.0 L372.0,350.5 L372.8,352.2 L373.6,354.4 L374.4,356.8 L375.1,359.1 L375.9,360.9 L376.7,363.0 L377.9,367.7 L378.7,371.5 L379.5,375.3 L380.2,374.4 L381.0,373.6 L381.6,372.7 L382.3,371.3 L382.9,370.1 L383.6,372.2 L384.4,374.5 L385.1,375.5 L385.7,376.6 L386.4,377.5 L387.1,378.9 L387.7,380.3 L388.4,381.5 L389.0,382.2 L389.7,382.9 L390.3,384.1 L391.1,383.4 L391.8,383.1 L392.5,380.0 L393.1,376.9 L394.2,371.3 L394.9,370.3 L395.7,369.0 L396.5,367.7 L397.3,366.3 L398.1,364.2 L398.8,362.2 L399.6,366.1 L400.4,369.9 L401.4,363.8 L402.0,365.7 L402.7,367.6 L403.9,371.5 L405.0,374.7 L405.9,375.8 L406.6,373.9 L407.4,371.7 L408.2,371.4 L409.0,371.1 L410.1,374.1 L410.9,371.0 L411.6,367.8 L412.7,365.7 L413.4,367.4 L414.2,368.7 L414.9,370.6 L415.5,372.5 L416.2,374.4 L417.0,376.4 L417.8,376.3 L418.6,376.5 L419.4,376.1 L420.1,375.6 L420.9,377.1 L421.7,378.9 L422.5,379.7 L423.2,380.7 L424.0,381.8 L424.7,382.9 L425.3,383.8 L426.0,385.0 L426.6,384.1 L427.3,383.5 L427.9,382.6 L428.5,382.3 L429.1,381.7 L429.7,381.2 L430.4,380.9 L431.0,380.5 L431.7,380.4 L432.5,381.5 L433.3,382.8 L434.0,383.5 L434.6,384.3 L435.3,384.9 L435.9,385.4 L436.6,385.4 L437.2,385.6 L437.9,387.5 L438.7,389.6 L439.9,385.6 L440.7,385.4 L441.5,384.9 L442.2,386.6 L443.0,388.6 L443.6,388.2 L444.3,387.7 L444.9,387.4 L445.7,385.4 L446.5,383.3 L447.1,384.1 L447.7,384.6 L448.3,385.0 L449.0,383.6 L449.6,382.4 L450.3,381.1 L451.1,378.0 L451.9,374.7 L452.6,374.5 L453.4,374.1 L454.5,370.0 L455.3,371.5 L456.1,373.4 L456.9,372.1 L457.6,371.1 L458.4,372.2 L459.1,373.6 L459.9,371.6 L460.7,369.5 L461.4,367.1 L462.2,365.0 L463.0,363.8 L463.8,362.8 L464.6,364.0 L465.3,365.4 L466.1,366.0 L466.9,366.4 L467.5,363.4 L468.1,360.2 L468.9,358.6 L470.0,366.5 L470.8,365.8 L471.5,365.1 L472.3,366.8 L473.1,367.7 L473.8,369.0 L474.4,370.0 L475.1,371.2 L475.8,371.5 L476.4,372.0 L477.1,372.6 L478.2,378.0 L478.9,380.3 L479.7,382.5 L480.5,383.4 L481.3,383.8 L482.1,384.2 L482.8,384.5 L483.6,385.2 L484.2,384.1 L484.9,383.1 L485.5,381.9 L486.2,381.5 L486.8,381.0 L487.5,380.9 L488.2,381.2 L488.8,381.3 L489.5,381.8 L490.1,383.0 L490.8,384.5 L491.4,385.9 L492.1,387.1 L492.9,388.9 L493.5,389.8 L494.2,390.9 L494.8,391.9 L496.0,386.5 L497.2,382.0 L498.0,384.2 L498.8,386.3 L499.6,385.4 L500.3,384.2 L501.1,382.9 L501.9,381.9 L502.6,383.4 L503.4,384.8 L504.0,386.0 L504.7,387.0 L505.3,388.1 L505.9,389.4 L506.5,390.6 L507.1,392.1 L507.8,393.3 L508.5,394.7 L509.2,395.9 L509.9,397.4 L510.7,398.9 L511.5,397.1 L512.3,394.9 L513.0,396.6 L513.8,398.2 L514.6,398.9 L515.4,399.6 L516.1,400.7 L516.9,401.8 L517.7,403.5 L518.5,405.1 L519.2,404.1 L520.0,402.9 L520.6,404.2 L521.2,405.8 L522.0,408.4 L522.7,411.2 L523.4,410.5 L524.0,410.3 L525.1,403.4 L526.1,396.6 L526.8,395.8 L527.4,394.8 L528.1,397.2 L528.9,399.6 L529.7,399.1 L530.5,398.6 L531.2,399.9 L532.0,401.2 L532.6,401.4 L533.3,402.3 L533.9,402.6 L534.6,404.1 L535.4,405.5 L536.2,407.2 L537.0,408.8 L537.6,406.1 L538.2,403.4 L538.9,399.1 L539.5,394.8 L540.2,394.6 L541.0,394.2 L541.8,395.5 L542.6,396.4 L543.6,400.4 L544.4,401.0 L545.2,402.0 L545.9,402.5 L546.5,403.3 L547.2,404.0 L547.8,403.6 L548.5,403.3 L549.1,402.5 L550.0,403.1 L550.9,403.5 L551.6,403.8 L552.2,404.2 L552.9,404.9 L553.7,403.5 L554.5,402.0 L555.6,398.8 L556.4,400.6 L557.1,402.6 L557.8,403.8 L558.4,405.1 L559.1,406.0 L559.9,405.4 L560.7,404.9 L561.5,403.9 L562.2,402.5 L562.9,402.4 L563.5,402.4 L564.2,402.6 L565.0,400.7 L565.8,398.6 L566.5,396.4 L567.3,394.4 L568.1,395.5 L568.9,396.5 L569.6,396.9 L570.4,397.0 L571.0,396.4 L571.7,395.7 L572.3,395.0 L573.0,393.6 L573.8,392.6 L574.4,391.8 L575.1,391.1 L575.7,390.1 L576.5,389.5 L577.2,388.7 L577.9,388.2 L578.5,387.7 L579.2,388.9 L580.0,390.1 L580.8,391.2 L581.6,392.4 L582.4,393.7 L583.1,394.6 L583.7,395.2 L584.4,395.4 L585.0,395.7 L585.8,396.9 L586.5,398.0 L587.3,397.3 L588.1,396.6 L588.9,396.1 L589.6,395.8 L590.4,396.2 L591.2,397.0 L591.9,397.0 L592.5,397.1 L593.2,397.1 L594.0,395.2 L594.7,393.3 L595.5,388.7 L596.3,388.2 L597.1,388.2 L597.9,389.6 L598.6,391.0 L599.4,392.0 L600.2,393.3 L601.1,393.6 L602.0,394.2 L602.8,395.2 L603.6,396.6 L604.4,397.3 L605.1,397.8 L605.8,402.6 L606.4,407.2 L607.0,404.1 L607.6,400.8 L608.4,401.0 L609.1,400.9 L609.9,400.3 L610.7,399.7 L611.5,398.7 L612.2,397.8 L613.0,395.6 L613.8,393.4 L614.5,391.9 L615.3,390.2 L616.1,391.7 L616.9,393.3 L618.0,402.6 L619.1,393.3 L620.3,392.4 L620.9,398.7 L621.5,404.9 L622.3,409.2 L623.1,413.2 L623.9,412.6 L624.6,411.7 L625.4,412.6 L626.2,413.5 L627.0,415.8 L627.7,418.1 L628.3,418.3 L629.0,417.9 L629.6,418.1 L630.4,412.3 L631.1,406.4 L631.8,408.8 L632.4,411.0 L633.1,411.7 L633.9,412.5 L635.0,413.4 L635.6,414.5 L636.2,415.6 L636.8,416.0 L637.5,416.6 L638.1,417.4 L638.9,417.9 L639.6,418.7 L640.8,413.1 L641.6,414.0 L642.4,415.0 L643.0,414.9 L643.6,414.8 L644.2,414.6 L645.0,413.5 L645.8,412.3 L646.5,413.9 L647.3,415.6 L648.1,417.3 L648.9,418.8 L649.6,419.9 L650.2,420.8 L650.9,421.9 L651.6,423.1 L652.2,423.9 L652.9,425.0 L653.5,425.6 L654.2,426.1 L654.8,426.5 L655.5,425.9 L656.3,424.9 L657.1,421.4 L657.9,417.8 L658.6,417.7 L659.4,417.2 L660.2,416.0 L661.0,414.6 L661.8,415.5 L662.5,416.9 L663.1,417.1 L663.8,417.6 L664.4,417.8 L665.1,419.0 L665.7,419.8 L666.4,420.9 L667.1,421.4 L667.9,421.6 L668.7,421.9 L669.5,422.3 L670.2,424.5 L671.0,426.4 L671.8,427.8 L672.6,429.6 L673.4,429.9 L674.1,429.9 L674.9,430.1 L675.7,430.4 L676.5,431.0 L677.4,431.3 L678.3,431.2 L679.1,431.1 L679.9,431.1 L680.5,430.2 L681.1,429.6 L681.9,431.0 L682.6,432.7 L683.2,433.1 L683.9,433.9 L684.5,434.7 L685.2,435.5 L685.8,436.2 L686.5,437.1 L687.3,436.8 L688.1,436.0 L688.9,437.2 L689.6,438.5 L690.4,439.3 L691.2,440.3 L691.9,440.2 L692.5,440.5 L693.2,440.6 L694.1,440.4 L695.0,440.2 L695.6,439.3 L696.3,438.8 L696.9,438.2 L697.6,437.7 L698.2,437.9 L698.9,437.6 L699.6,438.4 L700.2,439.3 L700.9,440.1 L702.0,434.1 L703.1,424.9 L703.9,423.6 L704.6,422.6 L705.4,422.1 L706.2,421.6 L707.4,422.5 L708.0,424.1 L708.7,425.8 L709.7,428.2 L710.5,426.0 L711.3,424.1 L712.0,423.2 L712.8,422.3 L713.5,423.5 L714.2,424.7 L714.9,425.6 L715.5,425.3 L716.1,425.3 L716.7,424.7 L717.3,425.0 L718.0,425.2 L718.6,425.2 L719.4,426.4 L720.1,427.9 L720.8,427.8 L721.4,428.1 L722.1,428.4 L722.8,428.2 L723.4,428.2 L724.1,428.3 L724.7,428.1 L725.4,427.8 L726.0,427.7 L726.8,428.8 L727.5,430.1 L728.3,430.6 L729.1,431.0 L729.9,432.8 L730.6,434.1 L731.4,435.1 L732.2,436.2 L732.8,435.6 L733.5,434.7 L734.1,434.3 L734.8,434.4 L735.4,434.4 L736.1,434.6 L736.9,433.1 L737.6,431.8 L738.4,431.1 L739.2,429.9 L740.0,430.1 L740.7,429.8 L741.5,430.8 L742.3,431.7 L743.0,431.8 L743.6,431.6 L744.3,431.2 L745.0,432.2 L745.8,433.5 L746.6,432.2 L747.4,431.2 L748.1,430.8 L748.9,430.8 L750.0,434.0 L750.7,434.8 L751.3,435.2 L752.0,435.7 L752.7,435.5 L753.3,435.7 L754.0,435.2 L754.9,435.6 L755.8,436.3 L756.4,436.7 L757.1,437.4 L757.7,438.2 L758.4,438.6 L759.0,439.1 L759.7,439.4 L760.4,439.0 L761.0,439.0 L761.7,438.9 L762.3,438.3 L763.0,438.2 L763.6,437.7 L764.8,430.6 L765.6,428.2 L766.4,426.2 L767.0,426.6 L767.6,427.3 L768.2,427.6 L768.8,427.2 L769.5,427.0 L770.1,426.8 L770.9,428.4 L771.6,429.4 L772.3,429.7 L772.9,430.2 L773.6,430.5 L774.3,430.6 L775.0,430.5 L775.7,430.5 L776.6,431.2 L777.5,432.2 L778.1,432.7 L778.8,433.2 L779.4,433.5 L780.1,433.0 L780.7,432.7 L781.4,431.9 L782.1,431.6 L782.7,431.4 L783.4,431.1 L784.0,430.9 L784.7,430.4 L785.3,430.0 L786.0,427.6 L786.8,425.4 L787.4,424.8 L788.1,423.9 L788.7,423.1 L789.4,422.6 L790.0,422.0 L790.7,421.7 L791.4,421.1 L792.0,421.0 L792.7,420.8 L793.6,421.3 L794.5,421.3 L795.1,421.5 L795.8,421.2 L796.4,420.9 L797.1,420.3 L797.7,419.4 L798.4,418.4 L799.2,417.0 L800.0,416.2 L800.8,417.5 L801.5,419.2 L802.3,421.1 L803.1,422.9 L803.8,423.6 L804.4,424.2 L805.1,424.7 L805.9,425.3 L806.6,426.2 L807.4,427.6 L808.2,429.3 L809.1,430.6 L810.0,432.2 L810.6,433.1 L811.3,434.3 L811.9,435.2 L812.6,436.0 L813.2,436.5 L813.9,437.0 L814.7,436.7 L815.5,436.1 L816.2,435.0 L817.0,434.1 L817.7,433.9 L818.3,433.7 L819.0,433.8 L819.6,434.5 L820.3,435.0 L820.9,435.4 L821.5,436.1 L822.1,437.3 L822.8,437.9 L823.5,439.0 L824.6,437.9 L825.7,440.6 L826.4,441.1 L827.1,441.7 L827.8,442.5 L828.5,443.5 L829.1,444.6 L829.8,445.4 L830.5,445.9 L831.2,446.7 L831.9,447.1 L832.5,447.2 L833.2,447.5 L833.9,447.8 L834.5,448.2 L835.2,449.1 L835.9,449.6 L836.6,450.0 L837.2,450.5 L837.9,451.4 L838.6,451.2 L839.3,451.2 L840.0,450.5 L840.6,449.4 L841.5,446.3 L842.5,443.4 L843.2,443.1 L844.1,445.7 L845.2,446.7 L846.2,446.4 L847.1,445.8 L848.1,448.0 L849.0,449.3 L850.1,448.6 L851.3,447.7 L852.4,445.2 L853.5,444.2 L854.3,443.9 L855.1,443.9 L855.9,443.8 L856.7,444.0 L857.4,440.8 L858.3,437.7 L859.2,434.5 L860.1,431.8 L860.5,424.8 L861.3,416.5 L862.1,411.3 L863.1,410.8 L863.9,413.3 L864.6,403.2 L865.4,404.6 L866.2,408.4 L866.9,409.8 L867.5,411.4 L868.3,407.2 L869.3,400.0 L869.6,396.1 L870.6,386.0 L871.7,384.8 L872.7,390.9 L873.9,394.3 L874.6,395.0 L875.3,396.1 L876.3,398.2 L877.0,392.1 L877.9,387.9 L878.7,393.0 L879.4,395.7 L880.2,394.4 L881.0,392.9 L882.0,388.1 L882.6,388.1 L883.2,388.4 L884.1,384.9 L885.1,385.8 L885.9,381.3 L887.0,382.2 L888.0,377.5 L888.6,375.0 L889.2,372.4 L890.1,372.9 L890.8,378.6 L891.5,385.8 L892.3,390.4 L893.4,389.4 L894.4,389.8 L895.2,385.9 L895.9,386.2 L896.5,386.4 L897.3,384.2 L898.3,380.6 L899.3,383.2 L900.0,383.8 L900.6,384.7 L901.8,386.0 L902.9,387.9 L903.7,392.0 L904.7,395.1 L905.5,398.7 L906.3,394.6 L907.3,388.5 L908.3,387.6 L909.4,388.4 L910.4,385.1 L911.4,383.8 L912.5,386.3 L913.5,389.0 L914.1,389.4 L914.8,389.9 L915.5,388.6 L916.1,387.5 L916.9,386.8 L917.6,386.3 L918.3,386.8 L919.0,387.0 L919.6,387.8 L920.2,388.2 L921.4,389.8 L922.5,393.0 L923.3,395.5 L923.9,395.1" fill="none" stroke="#138a07" stroke-width="2.15" stroke-linejoin="round" stroke-linecap="round"/>
<text x="931.9" y="214.1" font-size="14.4" fill="#737373" textLength="40.5" lengthAdjust="spacingAndGlyphs" stroke="#737373" stroke-width="0.3">18.00%</text>
<text x="931.9" y="307.1" font-size="14.4" fill="#737373" textLength="40.5" lengthAdjust="spacingAndGlyphs" stroke="#737373" stroke-width="0.3">12.00%</text>
<text x="931.9" y="398.5" font-size="14.4" fill="#737373" textLength="33.1" lengthAdjust="spacingAndGlyphs" stroke="#737373" stroke-width="0.3">6.00%</text>
<text x="931.9" y="491.6" font-size="14.4" fill="#737373" textLength="33.1" lengthAdjust="spacingAndGlyphs" stroke="#737373" stroke-width="0.3">0.00%</text>
<text x="89.4" y="512" font-size="14.4" fill="#737373" textLength="27.2" lengthAdjust="spacingAndGlyphs" stroke="#737373" stroke-width="0.3">1980</text>
<text x="268.2" y="512" font-size="14.4" fill="#737373" textLength="27.2" lengthAdjust="spacingAndGlyphs" stroke="#737373" stroke-width="0.3">1990</text>
<text x="448.2" y="512" font-size="14.4" fill="#737373" textLength="27.2" lengthAdjust="spacingAndGlyphs" stroke="#737373" stroke-width="0.3">2000</text>
<text x="627.1999999999999" y="512" font-size="14.4" fill="#737373" textLength="27.2" lengthAdjust="spacingAndGlyphs" stroke="#737373" stroke-width="0.3">2010</text>
<text x="807.1999999999999" y="512" font-size="14.4" fill="#737373" textLength="27.2" lengthAdjust="spacingAndGlyphs" stroke="#737373" stroke-width="0.3">2020</text>
<path d="M924,395.2 L933.3,385.4 L980.2,385.4 L980.2,405.0 L933.3,405.0 Z" fill="#138a07"/>
<text x="935.4" y="399.8" font-size="13.7" fill="#fff" font-weight="bold" textLength="34.4" lengthAdjust="spacingAndGlyphs" stroke="#fff" stroke-width="0.3">6.30%</text>
<path d="M924,428.0 L933.3,418.2 L980.2,418.2 L980.2,437.8 L933.3,437.8 Z" fill="#04408a"/>
<text x="935.4" y="432.6" font-size="13.7" fill="#fff" font-weight="bold" textLength="34.4" lengthAdjust="spacingAndGlyphs" stroke="#fff" stroke-width="0.3">4.18%</text>
<text x="351.4" y="534.9" font-size="14.0" fill="#222222" textLength="21.6" lengthAdjust="spacingAndGlyphs" stroke="#222222" stroke-width="0.3">VAL</text>
<circle cx="31.5" cy="550.8" r="3.75" fill="#138a07"/>
<text y="554.9" font-size="14.0" fill="#222222" stroke="#222222" stroke-width="0.3"><tspan x="46.6" textLength="13.8" lengthAdjust="spacingAndGlyphs">30</tspan> <tspan x="65.3" textLength="22.8" lengthAdjust="spacingAndGlyphs">Year</tspan> <tspan x="92.6" textLength="53.4" lengthAdjust="spacingAndGlyphs">Mortgage</tspan> <tspan x="150.5" textLength="24.2" lengthAdjust="spacingAndGlyphs">Rate</tspan> <tspan x="179.2" textLength="3.7" lengthAdjust="spacingAndGlyphs">-</tspan> <tspan x="188.0" textLength="12.4" lengthAdjust="spacingAndGlyphs">10</tspan> <tspan x="205.3" textLength="22.5" lengthAdjust="spacingAndGlyphs">Year</tspan> <tspan x="232.6" textLength="45.7" lengthAdjust="spacingAndGlyphs">Treasury</tspan> <tspan x="283.2" textLength="24.3" lengthAdjust="spacingAndGlyphs">Rate</tspan></text>
<text x="349.2" y="554.9" font-size="14.0" fill="#222222" textLength="23.8" lengthAdjust="spacingAndGlyphs" stroke="#222222" stroke-width="0.3">2.12</text>
<line x1="102.3" y1="567.3" x2="102.3" y2="691.6" stroke="#f0f0f0" stroke-width="1"/>
<line x1="281.6" y1="567.3" x2="281.6" y2="691.6" stroke="#f0f0f0" stroke-width="1"/>
<line x1="461.6" y1="567.3" x2="461.6" y2="691.6" stroke="#f0f0f0" stroke-width="1"/>
<line x1="640.6" y1="567.3" x2="640.6" y2="691.6" stroke="#f0f0f0" stroke-width="1"/>
<line x1="820.6" y1="567.3" x2="820.6" y2="691.6" stroke="#f0f0f0" stroke-width="1"/>
<line x1="12.5" y1="598.3" x2="923.8" y2="598.3" stroke="#f0f0f0" stroke-width="1"/>
<line x1="12.5" y1="629.3" x2="923.8" y2="629.3" stroke="#f0f0f0" stroke-width="1"/>
<line x1="12.5" y1="660.3" x2="923.8" y2="660.3" stroke="#f0f0f0" stroke-width="1"/>
<path d="M12.5,691.6 L12.5,567.3 L923.8,567.3 L923.8,691.6" fill="none" stroke="#e6e6e6" stroke-width="1"/>
<line x1="12.0" y1="692.1" x2="924.5" y2="692.1" stroke="#e9e9e9" stroke-width="1.4"/>
<line x1="19.5" y1="638.0" x2="923.8" y2="638.0" stroke="#138a07" stroke-opacity="0.7" stroke-width="1.6" stroke-dasharray="5.1,3.1"/>
<path d="M12.9,633.2 L13.4,635.1 L13.8,637.7 L14.3,636.7 L14.8,637.9 L15.3,637.9 L16.1,643.0 L16.6,646.8 L17.0,649.3 L17.5,651.6 L18.0,652.9 L18.6,651.2 L19.1,649.5 L19.7,649.5 L20.3,647.2 L20.8,647.8 L21.2,649.0 L21.7,649.4 L22.3,650.9 L22.9,652.5 L23.4,654.6 L23.8,653.4 L24.3,654.2 L24.7,652.0 L25.2,650.8 L25.8,648.9 L26.4,647.9 L27.0,646.1 L27.6,643.2 L28.2,645.8 L28.8,647.7 L29.2,646.2 L29.7,645.7 L30.3,643.2 L30.9,642.4 L31.4,644.6 L32.0,647.2 L32.6,647.2 L33.2,647.6 L33.7,648.2 L34.1,647.9 L34.6,647.6 L35.2,646.9 L35.8,644.6 L36.2,646.4 L36.7,648.8 L37.3,649.5 L37.9,651.1 L38.5,649.3 L39.1,647.0 L39.6,648.0 L40.2,645.8 L40.7,646.0 L41.3,646.1 L41.9,644.3 L42.4,644.0 L42.9,642.1 L43.4,642.5 L44.0,641.8 L44.6,640.6 L45.2,642.0 L45.7,642.0 L46.2,639.9 L46.6,637.6 L47.0,636.7 L47.5,635.6 L48.1,637.9 L48.7,638.9 L49.2,640.6 L49.8,643.0 L50.2,642.5 L50.7,644.6 L51.1,645.2 L51.6,646.6 L52.1,645.7 L52.6,644.0 L53.1,643.7 L53.6,643.9 L54.0,642.1 L54.5,642.6 L55.1,642.0 L55.7,641.9 L56.3,640.3 L56.9,640.4 L57.5,638.4 L58.0,638.1 L58.5,639.0 L59.0,640.6 L59.5,639.5 L60.0,640.3 L60.5,640.5 L61.0,641.2 L61.5,641.8 L62.0,642.7 L62.5,642.2 L63.0,642.7 L63.4,642.8 L63.9,644.1 L64.4,644.5 L64.8,643.0 L65.3,643.2 L65.9,644.5 L66.5,645.6 L67.1,646.9 L67.7,647.9 L68.2,646.9 L68.7,646.1 L69.2,646.6 L69.7,646.3 L70.2,646.5 L70.7,647.2 L71.2,646.4 L71.6,645.8 L72.1,645.8 L72.5,645.7 L73.0,644.1 L73.5,645.6 L73.9,645.1 L74.5,646.1 L75.0,646.8 L75.6,646.3 L76.2,646.6 L76.8,644.2 L77.4,643.6 L77.9,642.4 L78.4,642.4 L78.9,642.7 L79.4,643.2 L79.8,644.1 L80.3,644.1 L80.9,644.9 L81.5,646.1 L82.0,645.0 L82.4,644.6 L82.9,642.9 L83.5,644.8 L84.1,644.4 L84.7,643.6 L85.2,644.0 L85.8,643.0 L86.4,641.8 L87.0,642.4 L87.6,644.9 L88.1,645.2 L88.6,644.1 L89.1,644.2 L89.6,643.6 L90.1,643.9 L90.6,644.9 L91.4,640.8 L91.8,637.9 L92.3,633.8 L92.8,632.0 L93.4,632.5 L94.0,632.5 L94.6,632.6 L95.1,634.0 L95.6,633.5 L96.1,635.2 L96.7,636.7 L97.3,636.4 L97.9,640.2 L98.5,643.7 L99.3,636.1 L99.9,633.1 L100.5,631.0 L101.0,629.3 L101.6,628.2 L102.2,629.7 L102.8,631.4 L103.3,634.7 L103.8,637.7 L104.3,650.5 L104.8,655.8 L105.2,661.1 L105.9,645.8 L106.7,615.0 L107.5,595.2 L108.0,592.5 L108.4,589.0 L109.0,591.4 L109.6,609.2 L110.2,623.2 L110.8,618.8 L111.2,625.4 L111.7,631.6 L112.3,636.5 L112.9,641.9 L113.7,643.6 L114.3,640.3 L114.9,637.2 L115.5,635.2 L116.1,632.7 L116.9,634.9 L117.6,641.2 L118.4,644.1 L119.2,641.1 L120.0,626.9 L120.5,629.3 L120.9,631.8 L121.3,634.8 L121.8,638.7 L122.6,635.4 L123.3,631.8 L124.1,627.7 L124.9,635.1 L125.5,636.2 L126.1,638.8 L126.5,632.6 L127.0,627.1 L127.5,623.1 L128.0,618.5 L128.8,619.2 L129.4,622.8 L130.0,625.8 L130.6,628.4 L131.1,630.8 L131.6,631.0 L132.2,632.8 L132.7,632.3 L133.5,618.5 L134.3,622.4 L135.0,613.1 L135.8,600.2 L136.6,600.4 L137.3,611.6 L137.8,616.7 L138.2,621.2 L138.8,624.6 L139.3,625.4 L139.9,624.6 L140.5,624.2 L141.3,614.0 L141.8,616.6 L142.3,618.9 L142.8,621.7 L143.2,624.9 L144.0,620.0 L144.6,620.5 L145.2,621.7 L146.0,626.7 L146.5,631.2 L147.0,635.5 L147.4,631.6 L147.9,626.8 L148.7,621.0 L149.5,611.3 L150.2,611.9 L150.6,618.0 L151.1,624.8 L151.9,615.2 L152.4,613.7 L152.8,612.2 L153.3,614.5 L153.8,617.4 L154.6,619.1 L155.1,620.0 L155.7,622.8 L156.3,621.2 L156.9,621.6 L157.7,629.3 L158.4,634.5 L158.9,632.3 L159.3,630.4 L159.9,631.4 L160.4,632.7 L161.0,630.4 L161.6,630.5 L162.4,629.3 L163.0,631.1 L163.6,633.9 L164.2,634.8 L164.8,636.3 L165.4,637.3 L165.9,637.7 L166.4,635.6 L166.9,634.0 L167.5,639.8 L168.1,636.9 L168.6,634.3 L169.2,633.5 L169.8,633.3 L170.6,636.2 L171.2,637.7 L171.8,637.8 L172.4,639.9 L173.0,641.8 L173.6,639.2 L174.1,638.7 L174.6,639.9 L175.2,640.1 L175.7,639.6 L176.2,641.6 L176.8,643.8 L177.4,644.8 L178.0,646.9 L178.5,646.7 L179.0,648.2 L179.5,648.2 L180.1,650.3 L180.7,651.9 L181.5,656.3 L182.3,653.5 L182.8,651.0 L183.3,650.5 L183.8,647.1 L184.2,643.1 L185.0,635.4 L185.6,637.4 L186.2,639.8 L186.8,638.1 L187.4,636.4 L187.9,634.8 L188.4,635.2 L188.9,635.1 L189.5,633.0 L190.1,631.4 L190.9,640.8 L191.7,638.1 L192.2,639.7 L192.7,642.2 L193.2,641.1 L193.8,640.1 L194.4,642.9 L195.0,645.9 L195.6,644.8 L196.2,643.6 L196.8,641.9 L197.3,639.8 L197.9,638.4 L198.5,635.5 L199.0,633.8 L199.5,631.8 L200.3,636.4 L201.1,633.2 L201.6,636.0 L202.0,639.0 L202.5,641.2 L203.0,641.7 L203.8,636.3 L204.3,636.3 L204.8,638.1 L205.3,637.5 L205.8,637.6 L206.2,636.1 L206.7,635.9 L207.2,636.6 L207.6,635.5 L208.1,634.2 L208.6,636.9 L209.1,637.1 L209.6,636.6 L210.0,634.2 L210.6,637.6 L211.2,638.3 L211.8,637.1 L212.3,635.1 L212.8,633.2 L213.2,631.6 L213.8,630.1 L214.3,627.9 L214.8,629.6 L215.2,631.6 L215.6,629.4 L216.1,627.3 L216.6,628.7 L217.0,630.1 L217.6,626.7 L218.2,623.3 L218.8,621.2 L219.4,619.8 L219.9,619.7 L220.5,621.0 L221.1,621.2 L221.7,622.7 L222.5,626.6 L223.1,630.8 L223.6,628.9 L224.1,628.0 L224.6,628.8 L225.2,629.1 L225.8,629.4 L226.4,629.5 L227.2,631.9 L227.8,633.7 L228.4,633.2 L229.0,635.0 L229.6,637.5 L230.1,636.9 L230.7,637.4 L231.3,638.1 L231.9,638.3 L232.5,640.0 L233.1,642.3 L233.9,637.8 L234.4,636.2 L235.0,634.3 L235.5,634.0 L235.9,633.2 L236.4,633.1 L236.9,633.8 L237.4,635.9 L237.9,635.7 L238.5,637.3 L239.1,639.5 L239.7,642.1 L240.3,644.7 L240.9,644.3 L241.4,643.8 L241.9,639.9 L242.3,636.1 L243.0,630.4 L243.8,636.7 L244.4,638.2 L245.0,638.7 L245.6,641.0 L246.1,641.9 L246.7,639.2 L247.3,636.9 L247.8,639.4 L248.3,639.0 L248.8,640.1 L249.3,639.7 L249.7,640.9 L250.2,641.4 L250.6,641.8 L251.1,641.5 L251.6,642.4 L252.0,641.7 L252.5,642.6 L253.0,642.6 L253.5,643.7 L254.0,641.9 L254.4,640.9 L254.9,640.5 L255.4,641.3 L255.8,643.1 L256.3,644.0 L256.8,643.1 L257.4,641.5 L257.9,640.3 L258.4,641.2 L258.9,640.7 L259.4,641.1 L259.9,642.9 L260.3,641.6 L260.8,643.2 L261.3,643.8 L261.7,643.3 L262.2,645.2 L262.8,643.2 L263.4,641.2 L263.9,640.6 L264.4,640.0 L264.9,637.8 L265.5,640.1 L266.1,641.5 L266.6,642.0 L267.1,641.7 L267.6,641.6 L268.1,639.7 L268.5,639.0 L269.0,637.2 L269.5,636.2 L269.9,634.3 L270.4,632.9 L270.9,633.9 L271.4,635.1 L271.9,635.4 L272.5,636.7 L273.1,635.8 L273.6,636.9 L274.1,637.9 L274.6,639.0 L275.2,637.1 L275.8,634.7 L276.3,636.1 L276.7,635.8 L277.2,635.1 L277.8,634.9 L278.4,634.8 L278.9,634.7 L279.5,637.3 L279.9,636.3 L280.4,635.9 L280.9,636.3 L281.3,637.3 L281.8,637.0 L282.3,638.9 L282.8,640.2 L283.3,639.4 L283.7,639.4 L284.2,639.8 L284.7,639.8 L285.1,639.6 L285.6,638.8 L286.2,640.0 L286.8,640.0 L287.3,639.0 L287.8,638.0 L288.3,637.9 L288.9,638.2 L289.5,639.9 L290.0,639.1 L290.5,639.6 L291.0,640.4 L291.5,642.1 L291.9,642.9 L292.4,643.7 L292.9,643.4 L293.3,644.5 L293.8,644.9 L294.3,644.6 L294.9,643.5 L295.4,644.7 L295.9,642.5 L296.4,643.3 L296.9,642.4 L297.4,639.9 L297.8,640.3 L298.3,640.5 L298.8,640.4 L299.2,638.9 L299.7,638.1 L300.2,638.6 L300.7,640.7 L301.2,639.8 L301.7,641.9 L302.2,642.4 L302.7,644.6 L303.2,644.7 L303.6,642.1 L304.1,642.8 L304.6,642.4 L305.0,643.5 L305.4,643.4 L305.9,642.7 L306.3,644.7 L306.8,644.4 L307.2,644.0 L307.7,644.6 L308.1,645.2 L308.5,644.6 L309.0,643.9 L309.4,643.1 L309.8,643.6 L310.3,643.5 L310.8,644.6 L311.2,642.9 L311.6,644.3 L312.0,644.3 L312.5,642.7 L312.9,644.2 L313.3,644.0 L313.8,644.7 L314.2,643.8 L314.7,644.2 L315.1,644.4 L315.5,645.8 L316.0,645.1 L316.4,644.7 L316.8,644.3 L317.3,643.4 L317.8,642.3 L318.2,641.9 L318.7,643.8 L319.1,643.0 L319.6,644.8 L320.2,642.2 L320.8,641.4 L321.4,643.6 L322.0,644.9 L322.5,644.6 L323.0,645.0 L323.5,644.1 L324.0,644.7 L324.5,645.1 L325.0,646.5 L325.5,646.2 L325.9,645.0 L326.4,645.0 L326.9,643.7 L327.3,645.3 L327.8,644.9 L328.3,645.0 L328.8,644.2 L329.3,642.9 L329.8,642.0 L330.4,643.4 L330.9,641.3 L331.4,641.2 L332.0,640.1 L332.5,640.5 L332.9,642.0 L333.4,643.1 L333.8,641.9 L334.3,643.0 L334.8,642.6 L335.2,643.4 L335.6,642.9 L336.1,642.3 L336.6,642.1 L337.0,642.1 L337.4,643.1 L337.9,641.8 L338.3,640.8 L338.7,641.8 L339.3,641.7 L339.9,640.3 L340.4,640.6 L340.9,641.7 L341.4,642.4 L341.9,642.6 L342.3,641.6 L342.8,641.6 L343.2,641.9 L343.7,642.8 L344.2,643.8 L344.6,643.8 L345.1,643.7 L345.6,644.3 L346.1,645.1 L346.6,643.8 L347.0,642.7 L347.5,641.2 L348.0,641.2 L348.4,642.3 L348.9,640.1 L349.4,641.2 L350.0,641.8 L350.4,642.4 L350.9,641.2 L351.4,641.5 L351.8,641.6 L352.2,641.9 L352.6,642.0 L353.1,643.1 L353.5,642.8 L354.1,644.6 L354.7,644.6 L355.3,645.8 L355.9,648.4 L356.4,647.8 L356.8,645.9 L357.3,645.2 L357.8,643.6 L358.3,644.0 L358.8,644.8 L359.3,644.0 L359.8,643.4 L360.3,643.1 L360.8,642.4 L361.2,642.9 L361.7,643.8 L362.2,644.7 L362.6,645.2 L363.1,645.9 L363.6,645.9 L364.1,646.1 L364.6,646.8 L365.1,645.8 L365.5,645.7 L365.9,644.3 L366.4,645.6 L366.8,644.3 L367.3,645.6 L367.8,644.9 L368.2,644.1 L368.6,643.4 L369.0,643.4 L369.5,643.9 L369.9,643.7 L370.4,642.9 L370.8,643.2 L371.3,644.6 L371.8,644.1 L372.4,643.1 L372.9,642.1 L373.4,643.7 L373.9,643.2 L374.4,644.6 L374.9,644.9 L375.5,646.0 L376.0,645.3 L376.5,645.4 L377.0,644.2 L377.5,643.3 L378.0,643.9 L378.6,646.0 L379.1,646.0 L379.6,643.8 L380.2,641.9 L380.7,641.5 L381.3,644.3 L381.9,646.7 L382.4,645.1 L382.9,643.8 L383.4,643.0 L383.8,641.5 L384.3,641.1 L384.8,641.8 L385.2,641.9 L385.7,642.7 L386.1,641.9 L386.6,643.3 L387.1,642.6 L387.6,641.5 L388.1,640.3 L388.6,642.5 L389.1,641.7 L389.6,643.4 L390.1,642.5 L390.5,642.9 L391.0,644.4 L391.6,643.2 L392.2,643.6 L392.6,645.6 L393.1,647.8 L393.7,645.8 L394.3,643.7 L394.8,644.4 L395.2,645.2 L395.7,643.8 L396.3,644.5 L396.9,644.4 L397.4,644.8 L397.8,641.9 L398.3,640.6 L398.8,641.2 L399.3,642.5 L399.8,644.1 L400.3,644.5 L400.8,644.6 L401.3,645.5 L401.8,644.6 L402.2,642.5 L402.7,641.4 L403.2,642.8 L403.6,642.2 L404.1,640.5 L404.6,642.2 L405.2,642.0 L405.7,642.4 L406.2,642.9 L406.7,643.2 L407.2,643.5 L407.7,644.0 L408.3,644.2 L408.8,645.5 L409.3,643.8 L409.8,645.7 L410.2,644.3 L410.7,644.7 L411.2,645.7 L411.8,645.7 L412.3,644.9 L412.8,643.8 L413.4,644.4 L413.9,643.9 L414.3,645.3 L414.8,644.0 L415.2,644.5 L415.6,645.8 L416.1,644.3 L416.5,645.4 L416.9,646.6 L417.4,646.8 L417.9,645.5 L418.4,645.8 L418.9,646.1 L419.4,647.2 L419.8,645.2 L420.3,645.5 L420.8,645.7 L421.2,644.4 L421.7,644.1 L422.1,645.5 L422.6,644.3 L423.1,643.2 L423.6,643.8 L424.1,643.1 L424.5,643.2 L425.0,642.9 L425.5,643.8 L425.9,643.6 L426.4,642.4 L426.9,643.2 L427.4,641.5 L427.9,642.1 L428.4,642.0 L429.0,642.5 L429.5,641.9 L430.0,640.3 L430.4,639.6 L430.9,639.7 L431.4,640.2 L431.8,641.4 L432.3,640.2 L432.8,641.5 L433.3,641.4 L433.8,641.6 L434.3,641.7 L434.8,641.5 L435.3,641.1 L435.8,640.8 L436.2,640.5 L436.7,640.6 L437.3,638.3 L437.9,636.6 L438.4,634.6 L438.8,631.6 L439.6,628.9 L440.1,630.0 L440.5,632.1 L440.9,633.5 L441.4,636.1 L441.9,636.1 L442.3,636.5 L442.8,635.2 L443.4,635.1 L444.0,635.4 L444.4,635.3 L444.9,634.9 L445.5,635.8 L446.1,636.8 L446.6,637.4 L447.0,638.1 L447.5,638.4 L448.0,639.1 L448.5,639.9 L449.0,640.1 L449.5,639.6 L450.0,641.6 L450.5,641.1 L451.0,641.3 L451.5,640.5 L452.0,640.9 L452.5,638.8 L452.9,637.9 L453.4,636.9 L453.9,635.9 L454.4,636.7 L454.9,635.3 L455.5,635.3 L456.1,636.0 L456.6,638.1 L457.2,638.0 L457.8,636.8 L458.4,637.4 L458.9,637.7 L459.4,639.0 L459.9,637.8 L460.4,638.9 L460.8,640.1 L461.3,640.5 L461.8,641.2 L462.2,640.0 L462.7,641.1 L463.3,639.0 L463.9,637.3 L464.4,637.5 L465.0,635.3 L465.5,635.4 L465.9,633.6 L466.4,634.1 L466.9,633.0 L467.4,632.4 L467.9,633.3 L468.5,634.2 L469.1,633.1 L469.6,633.9 L470.1,633.8 L470.6,632.7 L471.1,633.2 L471.5,632.9 L472.0,633.3 L472.5,632.8 L472.9,632.9 L473.4,632.4 L473.9,632.1 L474.5,632.3 L475.0,633.5 L475.5,634.7 L476.0,634.0 L476.5,634.7 L477.0,633.9 L477.4,634.5 L477.9,633.4 L478.4,632.8 L478.8,633.3 L479.3,634.3 L479.8,635.4 L480.3,636.3 L480.8,635.9 L481.4,635.2 L482.0,635.5 L482.6,634.3 L483.2,633.8 L483.8,635.5 L484.3,638.4 L484.8,638.0 L485.4,639.5 L485.9,640.1 L486.4,639.4 L486.8,639.6 L487.3,639.0 L487.7,637.4 L488.1,636.8 L488.6,637.6 L489.0,636.2 L489.5,635.2 L490.0,636.5 L490.5,634.9 L490.9,634.9 L491.4,633.2 L491.8,633.3 L492.2,631.5 L492.7,631.9 L493.2,632.5 L493.7,634.6 L494.2,635.0 L494.7,635.8 L495.2,634.8 L495.6,637.2 L496.1,638.9 L496.6,637.8 L497.1,635.7 L497.6,634.6 L498.1,635.3 L498.7,636.4 L499.2,634.9 L499.7,636.4 L500.2,637.9 L500.7,639.0 L501.1,637.4 L501.6,637.2 L502.1,638.9 L502.5,639.0 L503.0,638.6 L503.4,638.3 L503.9,640.7 L504.4,639.8 L504.9,641.0 L505.4,640.7 L505.9,640.1 L506.5,637.7 L507.0,638.0 L507.5,636.0 L507.9,635.7 L508.4,635.8 L508.9,634.8 L509.3,632.4 L509.8,631.5 L510.3,631.7 L510.8,631.8 L511.3,631.4 L511.8,631.2 L512.3,631.8 L512.8,633.2 L513.3,634.5 L513.7,633.7 L514.2,635.8 L514.7,636.8 L515.1,635.9 L515.6,638.1 L516.1,636.4 L516.6,637.2 L517.1,636.9 L517.7,636.2 L518.3,634.7 L518.8,635.5 L519.3,636.4 L519.8,636.6 L520.3,636.8 L520.7,636.0 L521.2,635.6 L521.7,634.9 L522.2,636.3 L522.7,636.2 L523.2,636.2 L523.7,638.0 L524.2,638.6 L524.7,638.3 L525.2,638.1 L525.7,639.1 L526.2,637.8 L526.6,637.2 L527.1,637.3 L527.6,636.1 L528.0,636.5 L528.5,636.2 L529.0,636.2 L529.5,638.5 L530.0,638.3 L530.5,640.8 L530.9,642.1 L531.5,640.1 L532.0,637.7 L532.5,639.0 L533.1,639.1 L533.6,640.7 L534.1,639.4 L534.6,641.3 L535.1,641.9 L535.6,641.2 L536.2,641.2 L536.7,639.8 L537.2,641.8 L537.7,641.1 L538.2,642.5 L538.7,642.6 L539.3,641.2 L539.8,642.7 L540.3,642.6 L540.7,640.4 L541.2,640.6 L541.7,641.6 L542.1,640.6 L542.6,642.3 L543.1,640.8 L543.6,641.8 L544.1,640.2 L544.6,640.5 L545.1,641.0 L545.6,639.2 L546.1,639.5 L546.5,640.2 L547.0,640.0 L547.5,640.0 L547.9,640.9 L548.4,641.4 L548.9,643.4 L549.5,643.3 L550.0,644.1 L550.5,642.0 L551.0,642.7 L551.5,640.7 L552.0,641.8 L552.6,642.2 L553.1,641.8 L553.6,643.3 L554.1,643.0 L554.6,643.5 L555.1,643.5 L555.7,641.3 L556.2,642.5 L556.7,641.4 L557.3,640.5 L557.8,641.0 L558.3,639.9 L558.8,641.4 L559.3,640.6 L559.8,640.7 L560.4,642.1 L560.9,642.0 L561.4,641.0 L561.8,641.8 L562.3,640.0 L562.7,641.4 L563.1,640.1 L563.6,640.8 L564.0,641.4 L564.5,640.2 L565.0,639.9 L565.5,638.8 L566.0,637.6 L566.5,637.0 L567.0,636.7 L567.4,637.6 L567.9,637.3 L568.3,637.4 L568.7,638.2 L569.2,637.2 L569.7,638.0 L570.2,639.5 L570.7,638.0 L571.1,637.8 L571.6,638.3 L572.1,638.4 L572.5,639.5 L573.0,639.8 L573.5,640.9 L574.1,641.3 L574.6,640.9 L575.2,642.4 L575.7,642.6 L576.2,641.3 L576.8,642.4 L577.3,640.4 L577.8,640.0 L578.4,639.7 L578.9,640.7 L579.5,640.9 L580.0,640.4 L580.5,639.2 L580.9,638.5 L581.4,637.6 L581.9,639.3 L582.4,639.5 L582.9,639.5 L583.4,640.3 L584.0,640.1 L584.5,641.3 L585.0,641.1 L585.4,640.2 L585.9,641.7 L586.4,640.3 L586.8,641.8 L587.3,641.9 L587.8,642.4 L588.4,643.0 L588.9,643.5 L589.5,640.9 L590.0,641.0 L590.5,642.0 L591.0,640.5 L591.5,640.9 L592.0,641.9 L592.6,641.9 L593.1,642.4 L593.6,642.8 L594.1,641.4 L594.6,641.7 L595.1,641.1 L595.7,640.0 L596.2,641.2 L596.7,640.0 L597.1,638.9 L597.6,636.4 L598.1,637.9 L598.5,637.5 L599.0,636.7 L599.6,638.8 L600.2,639.8 L600.8,637.8 L601.3,635.4 L601.9,636.2 L602.5,636.4 L603.1,635.3 L603.7,634.4 L604.2,635.8 L604.8,637.5 L605.3,637.4 L605.9,636.7 L606.4,637.4 L607.0,634.5 L607.5,632.2 L608.1,630.1 L608.7,628.1 L609.3,630.6 L609.9,633.1 L610.5,632.1 L611.1,634.1 L611.6,632.9 L612.1,634.0 L612.6,634.9 L613.1,633.5 L613.5,631.8 L614.0,630.3 L614.6,628.5 L615.2,628.8 L615.8,627.4 L616.3,627.0 L616.8,627.8 L617.3,626.4 L618.1,632.5 L618.7,631.6 L619.3,631.4 L619.8,630.9 L620.4,631.8 L621.2,625.8 L621.7,623.9 L622.2,621.5 L622.7,622.4 L623.1,622.2 L623.9,627.6 L624.5,629.2 L625.1,631.9 L625.7,631.0 L626.3,633.0 L627.1,630.8 L627.5,632.8 L628.0,634.9 L628.5,637.4 L629.0,638.9 L629.8,640.7 L630.6,644.7 L631.1,640.9 L631.6,637.8 L632.2,638.9 L632.7,640.2 L633.3,641.4 L633.9,641.2 L634.5,640.8 L635.1,638.9 L635.6,639.7 L636.0,639.5 L636.5,639.4 L637.1,639.4 L637.7,642.9 L638.2,643.4 L638.7,643.8 L639.2,642.5 L639.7,642.9 L640.2,642.9 L640.7,642.9 L641.2,644.8 L641.6,645.0 L642.1,644.8 L642.6,645.0 L643.0,644.4 L643.5,643.5 L644.0,644.2 L644.5,645.4 L645.0,647.9 L645.6,645.3 L646.2,644.1 L646.8,642.8 L647.4,640.5 L647.9,641.2 L648.4,641.4 L648.9,642.6 L649.4,641.4 L649.8,640.9 L650.3,641.9 L650.8,640.9 L651.2,641.6 L651.7,641.1 L652.3,638.2 L652.9,637.2 L653.5,638.2 L654.1,639.8 L654.5,638.0 L655.0,637.8 L655.5,638.5 L655.9,638.8 L656.4,641.2 L656.9,640.3 L657.4,642.6 L657.9,642.0 L658.4,642.1 L659.0,642.9 L659.5,644.5 L660.0,644.7 L660.6,642.5 L661.1,643.3 L661.6,642.9 L662.1,643.1 L662.6,641.4 L663.2,643.3 L663.8,644.2 L664.3,644.4 L664.8,642.4 L665.3,643.0 L665.8,641.4 L666.2,641.1 L666.7,641.9 L667.3,642.7 L667.9,643.7 L668.4,642.2 L668.8,640.1 L669.3,639.2 L669.9,637.3 L670.5,635.3 L671.0,633.7 L671.4,631.8 L672.0,630.9 L672.8,637.2 L673.3,638.0 L673.8,636.1 L674.3,637.6 L674.8,635.2 L675.4,635.0 L675.9,634.6 L676.4,635.9 L677.0,635.1 L677.5,634.8 L678.0,636.3 L678.5,635.3 L679.0,636.1 L679.5,636.7 L680.0,637.5 L680.5,637.9 L681.0,637.9 L681.5,637.5 L682.0,637.6 L682.5,636.1 L683.1,636.4 L683.6,635.2 L684.0,634.6 L684.5,632.6 L685.0,633.6 L685.6,634.7 L686.1,634.7 L686.6,633.9 L687.1,634.8 L687.6,635.9 L688.1,634.9 L688.5,635.2 L689.0,635.8 L689.6,638.1 L690.2,639.9 L690.7,639.2 L691.1,640.0 L691.6,641.0 L692.1,640.4 L692.6,640.0 L693.1,638.5 L693.6,639.2 L694.1,639.3 L694.6,641.4 L695.0,642.0 L695.5,640.5 L695.9,642.2 L696.3,640.2 L696.8,640.7 L697.2,641.8 L697.6,641.3 L698.1,641.0 L698.5,640.3 L699.0,639.3 L699.4,639.8 L699.8,638.2 L700.3,638.0 L700.7,638.2 L701.1,637.3 L701.6,637.9 L702.0,638.6 L702.5,637.8 L702.9,636.9 L703.3,636.6 L703.8,635.6 L704.3,635.5 L704.8,637.1 L705.3,637.2 L705.8,638.3 L706.2,639.1 L706.7,638.5 L707.2,639.2 L707.6,639.9 L708.1,639.6 L708.6,639.6 L709.1,641.0 L709.6,641.7 L710.0,641.4 L710.5,641.1 L711.0,641.3 L711.4,640.8 L711.9,641.0 L712.3,640.9 L712.8,640.8 L713.2,641.8 L713.6,640.5 L714.0,641.0 L714.5,641.6 L714.9,641.3 L715.4,640.4 L715.8,638.8 L716.3,638.4 L716.8,638.7 L717.4,639.3 L717.9,639.0 L718.3,639.9 L718.8,640.7 L719.2,639.4 L719.6,640.7 L720.1,641.4 L720.5,640.9 L721.0,641.5 L721.6,642.8 L722.2,641.1 L722.7,641.4 L723.2,639.9 L723.7,640.4 L724.2,640.6 L724.6,639.5 L725.0,638.5 L725.5,639.4 L725.9,639.6 L726.4,640.3 L726.8,640.1 L727.2,640.7 L727.7,640.9 L728.1,640.1 L728.5,639.8 L729.0,640.7 L729.4,639.3 L729.9,640.5 L730.3,640.0 L730.7,641.0 L731.2,639.3 L731.6,640.8 L732.0,639.2 L732.5,638.3 L733.0,638.6 L733.4,638.7 L733.8,637.7 L734.3,638.4 L734.7,638.6 L735.1,639.3 L735.6,638.7 L736.0,638.7 L736.5,638.8 L736.9,640.0 L737.3,640.6 L737.8,639.9 L738.2,639.1 L738.6,640.1 L739.1,639.1 L739.5,638.6 L740.0,638.1 L740.4,639.2 L740.8,639.0 L741.3,638.3 L741.7,638.2 L742.1,638.7 L742.6,638.3 L743.0,640.2 L743.5,638.7 L743.9,639.2 L744.3,639.4 L744.8,639.3 L745.3,639.3 L745.8,639.7 L746.3,641.0 L746.8,639.5 L747.2,640.5 L747.7,638.9 L748.2,639.3 L748.6,637.5 L749.1,637.1 L749.6,636.1 L750.2,635.7 L750.7,634.4 L751.2,634.8 L751.7,637.1 L752.2,636.9 L752.7,636.7 L753.1,636.6 L753.6,636.8 L754.1,637.0 L754.5,637.9 L755.0,638.3 L755.5,636.9 L756.0,637.4 L756.5,636.4 L757.0,634.6 L757.5,636.0 L758.0,636.0 L758.5,636.1 L759.0,635.1 L759.5,636.9 L759.9,636.8 L760.4,635.8 L760.8,636.1 L761.2,638.3 L761.7,638.3 L762.2,638.1 L762.7,638.4 L763.2,638.6 L763.6,639.0 L764.1,640.4 L764.6,639.8 L765.0,639.8 L765.5,641.7 L766.0,640.5 L766.6,638.3 L767.1,638.8 L767.6,638.8 L768.1,639.8 L768.6,640.2 L769.1,640.0 L769.5,639.2 L770.0,638.7 L770.5,637.7 L770.9,639.0 L771.3,639.0 L771.8,639.7 L772.3,638.7 L772.8,639.2 L773.3,638.1 L773.8,638.1 L774.2,638.6 L774.7,639.0 L775.1,639.5 L775.5,638.3 L776.0,638.8 L776.4,637.9 L776.9,639.2 L777.5,639.8 L778.0,640.5 L778.5,640.8 L778.9,638.6 L779.4,639.9 L779.9,639.9 L780.3,640.9 L780.8,641.8 L781.3,642.0 L781.8,640.8 L782.3,640.7 L782.8,642.3 L783.3,640.8 L783.8,642.4 L784.2,642.5 L784.6,641.4 L785.1,642.8 L785.5,643.1 L786.0,643.4 L786.5,641.9 L787.0,643.1 L787.5,641.9 L788.0,641.7 L788.5,642.3 L788.9,640.2 L789.4,641.4 L789.8,640.9 L790.2,640.1 L790.7,641.5 L791.2,640.9 L791.7,641.4 L792.2,640.6 L792.7,640.1 L793.2,638.0 L793.7,639.2 L794.1,640.0 L794.6,641.0 L795.1,640.6 L795.5,638.5 L796.0,638.7 L796.5,638.6 L797.0,639.6 L797.5,639.9 L798.1,641.0 L798.7,642.5 L799.2,640.7 L799.7,639.8 L800.2,637.6 L800.7,637.4 L801.1,637.2 L801.6,637.6 L802.0,638.0 L802.5,638.6 L803.0,637.3 L803.4,639.1 L803.9,639.4 L804.3,638.7 L804.8,637.7 L805.2,638.2 L805.6,637.9 L806.0,638.5 L806.5,640.4 L806.9,640.0 L807.4,640.5 L807.9,641.1 L808.4,641.8 L808.9,640.4 L809.3,639.6 L809.8,638.9 L810.0,639.0 L810.5,639.1 L810.9,639.6 L811.3,638.9 L811.8,640.2 L812.3,638.9 L812.8,638.8 L813.3,636.6 L813.8,636.2 L814.4,635.3 L814.9,636.3 L815.4,636.0 L815.9,634.8 L816.4,633.6 L816.9,635.2 L817.5,635.7 L818.0,635.8 L818.5,635.8 L818.9,636.4 L819.4,637.2 L819.8,637.1 L820.2,637.4 L820.7,637.9 L821.1,638.6 L821.6,636.7 L822.2,637.6 L822.7,637.1 L823.2,634.3 L823.8,631.8 L824.4,629.3 L825.0,627.8 L825.5,626.6 L825.9,625.5 L826.4,626.1 L827.0,627.6 L827.6,629.5 L828.2,630.8 L828.8,630.9 L829.3,630.6 L829.7,629.8 L830.2,630.7 L830.7,630.6 L831.2,631.2 L831.7,631.7 L832.2,631.9 L832.7,633.5 L833.2,632.5 L833.7,634.9 L834.1,633.6 L834.6,635.9 L835.1,634.9 L835.5,635.2 L836.0,637.3 L836.5,636.9 L837.0,638.5 L837.5,637.9 L838.0,638.3 L838.6,640.4 L839.1,640.8 L839.6,641.5 L840.0,641.6 L840.5,640.6 L841.0,641.6 L841.4,641.5 L841.9,640.8 L842.4,642.4 L842.9,641.6 L843.4,643.7 L843.9,643.6 L844.4,642.5 L844.9,642.9 L845.4,644.0 L845.8,644.2 L846.3,642.4 L846.8,642.1 L847.2,642.2 L847.7,640.2 L848.2,641.9 L848.8,641.3 L849.3,640.6 L849.8,641.0 L850.3,641.3 L850.8,640.8 L851.3,641.9 L851.9,641.4 L852.4,643.3 L852.9,642.0 L853.4,642.2 L853.9,641.8 L854.4,641.0 L855.0,640.5 L855.5,641.0 L856.0,641.1 L856.4,640.6 L856.9,639.9 L857.4,639.2 L857.8,638.5 L858.3,640.2 L858.8,638.6 L859.3,637.9 L859.8,635.8 L860.3,635.7 L860.8,635.7 L861.3,634.6 L861.8,633.3 L862.2,632.0 L862.7,631.4 L863.3,631.5 L863.9,629.5 L864.5,628.4 L865.1,626.5 L865.7,628.3 L866.2,629.2 L866.8,629.0 L867.4,629.4 L868.0,628.2 L868.6,626.7 L869.1,626.5 L869.5,626.4 L870.0,625.9 L870.5,624.3 L871.0,626.2 L871.5,626.4 L872.0,625.7 L872.5,624.3 L873.0,622.9 L873.5,624.7 L874.0,625.2 L874.5,625.2 L875.0,627.1 L875.6,628.3 L876.2,628.3 L876.8,629.8 L877.4,627.3 L878.0,623.9 L878.5,624.2 L879.1,623.7 L879.6,622.8 L880.0,624.2 L880.5,624.9 L881.1,623.0 L881.7,621.0 L882.3,622.2 L882.9,624.4 L883.5,622.8 L884.1,620.4 L884.7,622.5 L885.2,625.7 L885.8,624.8 L886.4,622.8 L886.9,624.7 L887.4,626.6 L887.9,627.7 L888.5,626.3 L889.1,625.7 L889.9,621.8 L890.5,621.5 L891.1,622.2 L891.7,623.3 L892.3,625.5 L892.8,626.0 L893.4,627.6 L894.0,628.1 L894.6,629.2 L895.2,626.7 L895.8,624.7 L896.3,627.9 L896.8,627.8 L897.3,628.4 L897.8,629.1 L898.3,629.0 L898.8,627.3 L899.3,628.4 L899.7,628.1 L900.2,628.6 L900.7,627.0 L901.1,626.5 L901.6,627.9 L902.1,628.2 L902.7,628.0 L903.2,628.7 L903.7,627.9 L904.2,628.8 L904.7,627.8 L905.2,630.1 L905.6,631.0 L906.1,632.3 L906.6,632.2 L907.0,630.3 L907.5,629.4 L908.0,629.4 L908.5,628.9 L909.0,628.9 L909.8,632.4 L910.4,632.0 L911.0,631.2 L911.5,630.5 L912.0,631.7 L912.5,631.9 L913.0,629.9 L913.6,630.8 L914.1,630.2 L914.7,630.5 L915.2,633.1 L915.8,630.4 L916.4,629.9 L916.9,630.5 L917.3,631.6 L917.8,631.4 L918.3,630.2 L918.7,629.7 L919.2,628.5 L919.7,630.6 L920.2,631.0 L920.7,629.8 L921.2,629.8 L921.8,630.7 L922.3,631.3 L922.8,633.3 L923.4,634.1 L923.9,634.1" fill="none" stroke="#138a07" stroke-width="2.15" stroke-linejoin="round" stroke-linecap="round"/>
<text x="931.9" y="597.2" font-size="14.4" fill="#737373" textLength="24.0" lengthAdjust="spacingAndGlyphs" stroke="#737373" stroke-width="0.3">5.00</text>
<text x="931.9" y="628.3" font-size="14.4" fill="#737373" textLength="24.0" lengthAdjust="spacingAndGlyphs" stroke="#737373" stroke-width="0.3">2.50</text>
<text x="931.9" y="659.3" font-size="14.4" fill="#737373" textLength="24.0" lengthAdjust="spacingAndGlyphs" stroke="#737373" stroke-width="0.3">0.00</text>
<text x="931.2" y="691.2" font-size="14.4" fill="#737373" textLength="28.3" lengthAdjust="spacingAndGlyphs" stroke="#737373" stroke-width="0.3">-2.50</text>
<text x="89.4" y="711.5" font-size="14.4" fill="#737373" textLength="27.2" lengthAdjust="spacingAndGlyphs" stroke="#737373" stroke-width="0.3">1980</text>
<text x="268.2" y="711.5" font-size="14.4" fill="#737373" textLength="27.2" lengthAdjust="spacingAndGlyphs" stroke="#737373" stroke-width="0.3">1990</text>
<text x="448.2" y="711.5" font-size="14.4" fill="#737373" textLength="27.2" lengthAdjust="spacingAndGlyphs" stroke="#737373" stroke-width="0.3">2000</text>
<text x="627.1999999999999" y="711.5" font-size="14.4" fill="#737373" textLength="27.2" lengthAdjust="spacingAndGlyphs" stroke="#737373" stroke-width="0.3">2010</text>
<text x="807.1999999999999" y="711.5" font-size="14.4" fill="#737373" textLength="27.2" lengthAdjust="spacingAndGlyphs" stroke="#737373" stroke-width="0.3">2020</text>
<path d="M924,634.2 L933.3,624.4000000000001 L972.4,624.4000000000001 L972.4,644.0 L933.3,644.0 Z" fill="#138a07"/>
<text x="935.4" y="638.8" font-size="13.7" fill="#fff" font-weight="bold" textLength="25.1" lengthAdjust="spacingAndGlyphs" stroke="#fff" stroke-width="0.3">2.12</text>
<path d="M924,653.7 L933.3,643.9000000000001 L1011.9,643.9000000000001 L1011.9,663.5 L933.3,663.5 Z" fill="#138a07"/>
<text x="935.4" y="658.3" font-size="13.7" fill="#fff" font-weight="bold" textLength="60.4" lengthAdjust="spacingAndGlyphs" stroke="#fff" stroke-width="0.3">1.793 AVG</text>
<text y="763.7" font-size="13.9" fill="#2a2a2a" stroke="#2a2a2a" stroke-width="0.3"><tspan x="708.9" textLength="19.1" lengthAdjust="spacingAndGlyphs">Sep</tspan> <tspan x="731.9" textLength="15.2" lengthAdjust="spacingAndGlyphs">29,</tspan> <tspan x="750.9" textLength="28.1" lengthAdjust="spacingAndGlyphs">2025,</tspan> <tspan x="783.7" textLength="27.2" lengthAdjust="spacingAndGlyphs">12:28</tspan> <tspan x="815.1" textLength="17.0" lengthAdjust="spacingAndGlyphs">PM</tspan> <tspan x="835.9" textLength="19.7" lengthAdjust="spacingAndGlyphs">EDT</tspan> <tspan x="860.3" textLength="43.9" lengthAdjust="spacingAndGlyphs">Powered</tspan> <tspan x="908.3" textLength="11.1" lengthAdjust="spacingAndGlyphs">by</tspan></text>
<text x="923.5" y="765.7" font-size="16.6" fill="#1a8fe6" font-weight="bold" textLength="11.8" lengthAdjust="spacingAndGlyphs" stroke="#1a8fe6" stroke-width="0.3">Y</text>
<text x="936.5" y="765.5" font-size="16.3" font-weight="bold" fill="#111" textLength="78.8" lengthAdjust="spacing">CHARTS</text>
<g fill="none" stroke-width="2" stroke-linecap="round">
<path d="M33.15,736.4 A4.8,4.8 0 0 1 28.4,744.7 Q25.6,745.6 24.95,748.8 A4.8,4.8 0 0 1 16.1,752.4" stroke="#1f4e7a"/>
<path d="M33.15,736.4 A4.8,4.8 0 0 0 25.75,741.5 Q25.6,744 24.6,746.2" stroke="#2f7d3b"/>
<path d="M24.0,746.9 A4.8,4.8 0 0 0 16.1,752.4" stroke="#2f7d3b"/>
<line x1="14.2" y1="755.7" x2="35.7" y2="734.2" stroke="#2f7d3b" stroke-width="1.2"/>
</g>
<text x="28.6" y="757.4" font-size="18.8" fill="#1f4e7a" textLength="57.2" lengthAdjust="spacingAndGlyphs">infinite</text>
<text x="28.6" y="765.0" font-size="4.8" fill="#3a8a48" font-weight="bold" textLength="57.2" lengthAdjust="spacingAndGlyphs">WEALTH PLANNING</text>
</g>
</svg></body></html>
